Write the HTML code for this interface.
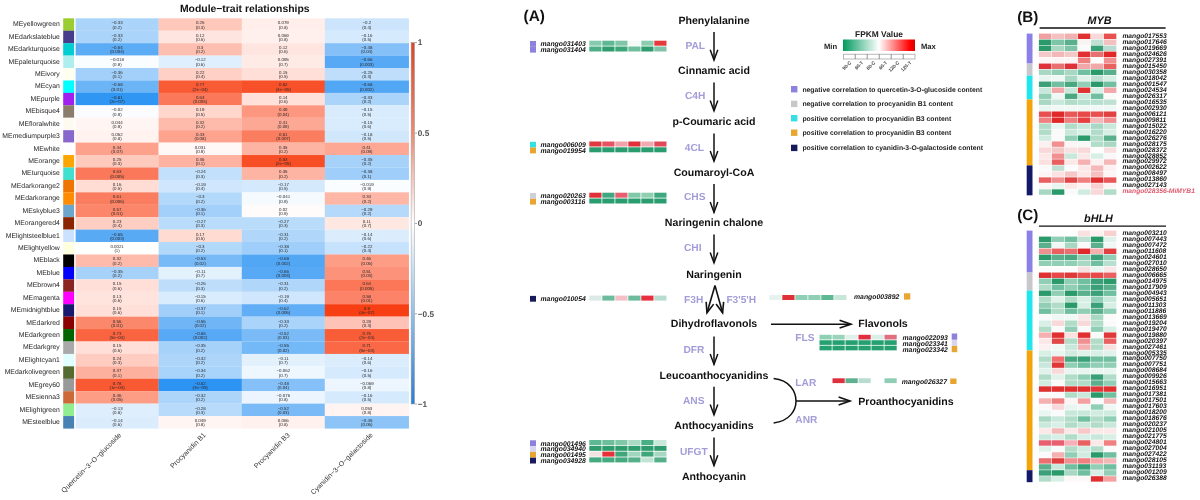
<!DOCTYPE html>
<html><head><meta charset="utf-8"><title>Figure</title>
<style>html,body{margin:0;padding:0;background:#fff;}svg{display:block;font-family:"Liberation Sans", sans-serif;text-rendering:geometricPrecision;filter:blur(0.45px);}</style>
</head><body>
<svg width="1200" height="500" viewBox="0 0 1200 500">
<rect width="1200" height="500" fill="#ffffff"/>
<text x="244.75" y="11.50" font-size="10.4" fill="#111" font-weight="bold" font-style="normal" text-anchor="middle" >Module−trait relationships</text>
<rect x="63.20" y="18.30" width="10.90" height="12.53" fill="#9acd32" />
<text x="59.80" y="26.21" font-size="6.85" fill="#1e1e1e" font-weight="normal" font-style="normal" text-anchor="end" >MEyellowgreen</text>
<rect x="75.60" y="18.30" width="83.15" height="12.53" fill="#abd4fa" />
<text x="117.10" y="24.20" font-size="4.4" fill="#2a2a2a" font-weight="normal" font-style="normal" text-anchor="middle" >−0.33</text>
<text x="117.10" y="28.50" font-size="4.4" fill="#2a2a2a" font-weight="normal" font-style="normal" text-anchor="middle" >(0.2)</text>
<rect x="158.60" y="18.30" width="83.35" height="12.53" fill="#fec8bb" />
<text x="200.20" y="24.20" font-size="4.4" fill="#2a2a2a" font-weight="normal" font-style="normal" text-anchor="middle" >0.26</text>
<text x="200.20" y="28.50" font-size="4.4" fill="#2a2a2a" font-weight="normal" font-style="normal" text-anchor="middle" >(0.3)</text>
<rect x="241.80" y="18.30" width="83.15" height="12.53" fill="#ffeeea" />
<text x="283.30" y="24.20" font-size="4.4" fill="#2a2a2a" font-weight="normal" font-style="normal" text-anchor="middle" >0.079</text>
<text x="283.30" y="28.50" font-size="4.4" fill="#2a2a2a" font-weight="normal" font-style="normal" text-anchor="middle" >(0.8)</text>
<rect x="324.80" y="18.30" width="84.15" height="12.53" fill="#cce5fc" />
<text x="366.80" y="24.20" font-size="4.4" fill="#2a2a2a" font-weight="normal" font-style="normal" text-anchor="middle" >−0.2</text>
<text x="366.80" y="28.50" font-size="4.4" fill="#2a2a2a" font-weight="normal" font-style="normal" text-anchor="middle" >(0.4)</text>
<rect x="63.20" y="30.73" width="10.90" height="12.53" fill="#483d8b" />
<text x="59.80" y="38.65" font-size="6.85" fill="#1e1e1e" font-weight="normal" font-style="normal" text-anchor="end" >MEdarkslateblue</text>
<rect x="75.60" y="30.73" width="83.15" height="12.53" fill="#abd4fa" />
<text x="117.10" y="36.63" font-size="4.4" fill="#2a2a2a" font-weight="normal" font-style="normal" text-anchor="middle" >−0.33</text>
<text x="117.10" y="40.93" font-size="4.4" fill="#2a2a2a" font-weight="normal" font-style="normal" text-anchor="middle" >(0.2)</text>
<rect x="158.60" y="30.73" width="83.35" height="12.53" fill="#ffe5e0" />
<text x="200.20" y="36.63" font-size="4.4" fill="#2a2a2a" font-weight="normal" font-style="normal" text-anchor="middle" >0.12</text>
<text x="200.20" y="40.93" font-size="4.4" fill="#2a2a2a" font-weight="normal" font-style="normal" text-anchor="middle" >(0.6)</text>
<rect x="241.80" y="30.73" width="83.15" height="12.53" fill="#fff0ed" />
<text x="283.30" y="36.63" font-size="4.4" fill="#2a2a2a" font-weight="normal" font-style="normal" text-anchor="middle" >0.069</text>
<text x="283.30" y="40.93" font-size="4.4" fill="#2a2a2a" font-weight="normal" font-style="normal" text-anchor="middle" >(0.8)</text>
<rect x="324.80" y="30.73" width="84.15" height="12.53" fill="#d6eafd" />
<text x="366.80" y="36.63" font-size="4.4" fill="#2a2a2a" font-weight="normal" font-style="normal" text-anchor="middle" >−0.16</text>
<text x="366.80" y="40.93" font-size="4.4" fill="#2a2a2a" font-weight="normal" font-style="normal" text-anchor="middle" >(0.5)</text>
<rect x="63.20" y="43.16" width="10.90" height="12.53" fill="#00ced1" />
<text x="59.80" y="51.08" font-size="6.85" fill="#1e1e1e" font-weight="normal" font-style="normal" text-anchor="end" >MEdarkturquoise</text>
<rect x="75.60" y="43.16" width="83.15" height="12.53" fill="#5cacf5" />
<text x="117.10" y="49.06" font-size="4.4" fill="#2a2a2a" font-weight="normal" font-style="normal" text-anchor="middle" >−0.64</text>
<text x="117.10" y="53.36" font-size="4.4" fill="#2a2a2a" font-weight="normal" font-style="normal" text-anchor="middle" >(0.004)</text>
<rect x="158.60" y="43.16" width="83.35" height="12.53" fill="#febfb0" />
<text x="200.20" y="49.06" font-size="4.4" fill="#2a2a2a" font-weight="normal" font-style="normal" text-anchor="middle" >0.3</text>
<text x="200.20" y="53.36" font-size="4.4" fill="#2a2a2a" font-weight="normal" font-style="normal" text-anchor="middle" >(0.2)</text>
<rect x="241.80" y="43.16" width="83.15" height="12.53" fill="#ffe5e0" />
<text x="283.30" y="49.06" font-size="4.4" fill="#2a2a2a" font-weight="normal" font-style="normal" text-anchor="middle" >0.12</text>
<text x="283.30" y="53.36" font-size="4.4" fill="#2a2a2a" font-weight="normal" font-style="normal" text-anchor="middle" >(0.6)</text>
<rect x="324.80" y="43.16" width="84.15" height="12.53" fill="#85c1f8" />
<text x="366.80" y="49.06" font-size="4.4" fill="#2a2a2a" font-weight="normal" font-style="normal" text-anchor="middle" >−0.48</text>
<text x="366.80" y="53.36" font-size="4.4" fill="#2a2a2a" font-weight="normal" font-style="normal" text-anchor="middle" >(0.04)</text>
<rect x="63.20" y="55.59" width="10.90" height="12.53" fill="#afeeee" />
<text x="59.80" y="63.51" font-size="6.85" fill="#1e1e1e" font-weight="normal" font-style="normal" text-anchor="end" >MEpaleturquoise</text>
<rect x="75.60" y="55.59" width="83.15" height="12.53" fill="#fafdff" />
<text x="117.10" y="61.49" font-size="4.4" fill="#2a2a2a" font-weight="normal" font-style="normal" text-anchor="middle" >−0.018</text>
<text x="117.10" y="65.79" font-size="4.4" fill="#2a2a2a" font-weight="normal" font-style="normal" text-anchor="middle" >(0.9)</text>
<rect x="158.60" y="55.59" width="83.35" height="12.53" fill="#e0effd" />
<text x="200.20" y="61.49" font-size="4.4" fill="#2a2a2a" font-weight="normal" font-style="normal" text-anchor="middle" >−0.12</text>
<text x="200.20" y="65.79" font-size="4.4" fill="#2a2a2a" font-weight="normal" font-style="normal" text-anchor="middle" >(0.6)</text>
<rect x="241.80" y="55.59" width="83.15" height="12.53" fill="#ffebe6" />
<text x="283.30" y="61.49" font-size="4.4" fill="#2a2a2a" font-weight="normal" font-style="normal" text-anchor="middle" >0.095</text>
<text x="283.30" y="65.79" font-size="4.4" fill="#2a2a2a" font-weight="normal" font-style="normal" text-anchor="middle" >(0.7)</text>
<rect x="324.80" y="55.59" width="84.15" height="12.53" fill="#57a9f5" />
<text x="366.80" y="61.49" font-size="4.4" fill="#2a2a2a" font-weight="normal" font-style="normal" text-anchor="middle" >−0.66</text>
<text x="366.80" y="65.79" font-size="4.4" fill="#2a2a2a" font-weight="normal" font-style="normal" text-anchor="middle" >(0.003)</text>
<rect x="63.20" y="68.02" width="10.90" height="12.53" fill="#fffff0" />
<text x="59.80" y="75.94" font-size="6.85" fill="#1e1e1e" font-weight="normal" font-style="normal" text-anchor="end" >MEivory</text>
<rect x="75.60" y="68.02" width="83.15" height="12.53" fill="#a3d0fa" />
<text x="117.10" y="73.92" font-size="4.4" fill="#2a2a2a" font-weight="normal" font-style="normal" text-anchor="middle" >−0.36</text>
<text x="117.10" y="78.22" font-size="4.4" fill="#2a2a2a" font-weight="normal" font-style="normal" text-anchor="middle" >(0.1)</text>
<rect x="158.60" y="68.02" width="83.35" height="12.53" fill="#ffd0c5" />
<text x="200.20" y="73.92" font-size="4.4" fill="#2a2a2a" font-weight="normal" font-style="normal" text-anchor="middle" >0.22</text>
<text x="200.20" y="78.22" font-size="4.4" fill="#2a2a2a" font-weight="normal" font-style="normal" text-anchor="middle" >(0.4)</text>
<rect x="241.80" y="68.02" width="83.15" height="12.53" fill="#ffdfd8" />
<text x="283.30" y="73.92" font-size="4.4" fill="#2a2a2a" font-weight="normal" font-style="normal" text-anchor="middle" >0.15</text>
<text x="283.30" y="78.22" font-size="4.4" fill="#2a2a2a" font-weight="normal" font-style="normal" text-anchor="middle" >(0.5)</text>
<rect x="324.80" y="68.02" width="84.15" height="12.53" fill="#bfdefb" />
<text x="366.80" y="73.92" font-size="4.4" fill="#2a2a2a" font-weight="normal" font-style="normal" text-anchor="middle" >−0.25</text>
<text x="366.80" y="78.22" font-size="4.4" fill="#2a2a2a" font-weight="normal" font-style="normal" text-anchor="middle" >(0.3)</text>
<rect x="63.20" y="80.45" width="10.90" height="12.53" fill="#00ffff" />
<text x="59.80" y="88.37" font-size="6.85" fill="#1e1e1e" font-weight="normal" font-style="normal" text-anchor="end" >MEcyan</text>
<rect x="75.60" y="80.45" width="83.15" height="12.53" fill="#6bb4f6" />
<text x="117.10" y="86.35" font-size="4.4" fill="#2a2a2a" font-weight="normal" font-style="normal" text-anchor="middle" >−0.58</text>
<text x="117.10" y="90.65" font-size="4.4" fill="#2a2a2a" font-weight="normal" font-style="normal" text-anchor="middle" >(0.01)</text>
<rect x="158.60" y="80.45" width="83.35" height="12.53" fill="#f95b35" />
<text x="200.20" y="86.35" font-size="4.4" fill="#2a2a2a" font-weight="normal" font-style="normal" text-anchor="middle" >0.77</text>
<text x="200.20" y="90.65" font-size="4.4" fill="#2a2a2a" font-weight="normal" font-style="normal" text-anchor="middle" >(2e−04)</text>
<rect x="241.80" y="80.45" width="83.15" height="12.53" fill="#f85028" />
<text x="283.30" y="86.35" font-size="4.4" fill="#2a2a2a" font-weight="normal" font-style="normal" text-anchor="middle" >0.82</text>
<text x="283.30" y="90.65" font-size="4.4" fill="#2a2a2a" font-weight="normal" font-style="normal" text-anchor="middle" >(4e−05)</text>
<rect x="324.80" y="80.45" width="84.15" height="12.53" fill="#52a7f5" />
<text x="366.80" y="86.35" font-size="4.4" fill="#2a2a2a" font-weight="normal" font-style="normal" text-anchor="middle" >−0.68</text>
<text x="366.80" y="90.65" font-size="4.4" fill="#2a2a2a" font-weight="normal" font-style="normal" text-anchor="middle" >(0.002)</text>
<rect x="63.20" y="92.88" width="10.90" height="12.53" fill="#a020f0" />
<text x="59.80" y="100.80" font-size="6.85" fill="#1e1e1e" font-weight="normal" font-style="normal" text-anchor="end" >MEpurple</text>
<rect x="75.60" y="92.88" width="83.15" height="12.53" fill="#3096f3" />
<text x="117.10" y="98.78" font-size="4.4" fill="#2a2a2a" font-weight="normal" font-style="normal" text-anchor="middle" >−0.81</text>
<text x="117.10" y="103.08" font-size="4.4" fill="#2a2a2a" font-weight="normal" font-style="normal" text-anchor="middle" >(2e−07)</text>
<rect x="158.60" y="92.88" width="83.35" height="12.53" fill="#fb795a" />
<text x="200.20" y="98.78" font-size="4.4" fill="#2a2a2a" font-weight="normal" font-style="normal" text-anchor="middle" >0.63</text>
<text x="200.20" y="103.08" font-size="4.4" fill="#2a2a2a" font-weight="normal" font-style="normal" text-anchor="middle" >(0.005)</text>
<rect x="241.80" y="92.88" width="83.15" height="12.53" fill="#ffe1da" />
<text x="283.30" y="98.78" font-size="4.4" fill="#2a2a2a" font-weight="normal" font-style="normal" text-anchor="middle" >0.14</text>
<text x="283.30" y="103.08" font-size="4.4" fill="#2a2a2a" font-weight="normal" font-style="normal" text-anchor="middle" >(0.6)</text>
<rect x="324.80" y="92.88" width="84.15" height="12.53" fill="#abd4fa" />
<text x="366.80" y="98.78" font-size="4.4" fill="#2a2a2a" font-weight="normal" font-style="normal" text-anchor="middle" >−0.33</text>
<text x="366.80" y="103.08" font-size="4.4" fill="#2a2a2a" font-weight="normal" font-style="normal" text-anchor="middle" >(0.2)</text>
<rect x="63.20" y="105.31" width="10.90" height="12.53" fill="#8b7d6b" />
<text x="59.80" y="113.22" font-size="6.85" fill="#1e1e1e" font-weight="normal" font-style="normal" text-anchor="end" >MEbisque4</text>
<rect x="75.60" y="105.31" width="83.15" height="12.53" fill="#fafcff" />
<text x="117.10" y="111.21" font-size="4.4" fill="#2a2a2a" font-weight="normal" font-style="normal" text-anchor="middle" >−0.02</text>
<text x="117.10" y="115.51" font-size="4.4" fill="#2a2a2a" font-weight="normal" font-style="normal" text-anchor="middle" >(0.9)</text>
<rect x="158.60" y="105.31" width="83.35" height="12.53" fill="#ffd7cd" />
<text x="200.20" y="111.21" font-size="4.4" fill="#2a2a2a" font-weight="normal" font-style="normal" text-anchor="middle" >0.19</text>
<text x="200.20" y="115.51" font-size="4.4" fill="#2a2a2a" font-weight="normal" font-style="normal" text-anchor="middle" >(0.5)</text>
<rect x="241.80" y="105.31" width="83.15" height="12.53" fill="#fd977f" />
<text x="283.30" y="111.21" font-size="4.4" fill="#2a2a2a" font-weight="normal" font-style="normal" text-anchor="middle" >0.49</text>
<text x="283.30" y="115.51" font-size="4.4" fill="#2a2a2a" font-weight="normal" font-style="normal" text-anchor="middle" >(0.04)</text>
<rect x="324.80" y="105.31" width="84.15" height="12.53" fill="#d9ecfd" />
<text x="366.80" y="111.21" font-size="4.4" fill="#2a2a2a" font-weight="normal" font-style="normal" text-anchor="middle" >−0.15</text>
<text x="366.80" y="115.51" font-size="4.4" fill="#2a2a2a" font-weight="normal" font-style="normal" text-anchor="middle" >(0.5)</text>
<rect x="63.20" y="117.74" width="10.90" height="12.53" fill="#fffaf0" />
<text x="59.80" y="125.66" font-size="6.85" fill="#1e1e1e" font-weight="normal" font-style="normal" text-anchor="end" >MEfloralwhite</text>
<rect x="75.60" y="117.74" width="83.15" height="12.53" fill="#fff6f3" />
<text x="117.10" y="123.64" font-size="4.4" fill="#2a2a2a" font-weight="normal" font-style="normal" text-anchor="middle" >0.044</text>
<text x="117.10" y="127.94" font-size="4.4" fill="#2a2a2a" font-weight="normal" font-style="normal" text-anchor="middle" >(0.9)</text>
<rect x="158.60" y="117.74" width="83.35" height="12.53" fill="#febbab" />
<text x="200.20" y="123.64" font-size="4.4" fill="#2a2a2a" font-weight="normal" font-style="normal" text-anchor="middle" >0.32</text>
<text x="200.20" y="127.94" font-size="4.4" fill="#2a2a2a" font-weight="normal" font-style="normal" text-anchor="middle" >(0.2)</text>
<rect x="241.80" y="117.74" width="83.15" height="12.53" fill="#fda894" />
<text x="283.30" y="123.64" font-size="4.4" fill="#2a2a2a" font-weight="normal" font-style="normal" text-anchor="middle" >0.41</text>
<text x="283.30" y="127.94" font-size="4.4" fill="#2a2a2a" font-weight="normal" font-style="normal" text-anchor="middle" >(0.09)</text>
<rect x="324.80" y="117.74" width="84.15" height="12.53" fill="#d9ecfd" />
<text x="366.80" y="123.64" font-size="4.4" fill="#2a2a2a" font-weight="normal" font-style="normal" text-anchor="middle" >−0.15</text>
<text x="366.80" y="127.94" font-size="4.4" fill="#2a2a2a" font-weight="normal" font-style="normal" text-anchor="middle" >(0.6)</text>
<rect x="63.20" y="130.17" width="10.90" height="12.53" fill="#8968cd" />
<text x="59.80" y="138.09" font-size="6.85" fill="#1e1e1e" font-weight="normal" font-style="normal" text-anchor="end" >MEmediumpurple3</text>
<rect x="75.60" y="130.17" width="83.15" height="12.53" fill="#fff2ef" />
<text x="117.10" y="136.07" font-size="4.4" fill="#2a2a2a" font-weight="normal" font-style="normal" text-anchor="middle" >0.062</text>
<text x="117.10" y="140.37" font-size="4.4" fill="#2a2a2a" font-weight="normal" font-style="normal" text-anchor="middle" >(0.8)</text>
<rect x="158.60" y="130.17" width="83.35" height="12.53" fill="#fda38e" />
<text x="200.20" y="136.07" font-size="4.4" fill="#2a2a2a" font-weight="normal" font-style="normal" text-anchor="middle" >0.43</text>
<text x="200.20" y="140.37" font-size="4.4" fill="#2a2a2a" font-weight="normal" font-style="normal" text-anchor="middle" >(0.08)</text>
<rect x="241.80" y="130.17" width="83.15" height="12.53" fill="#fb7d5f" />
<text x="283.30" y="136.07" font-size="4.4" fill="#2a2a2a" font-weight="normal" font-style="normal" text-anchor="middle" >0.61</text>
<text x="283.30" y="140.37" font-size="4.4" fill="#2a2a2a" font-weight="normal" font-style="normal" text-anchor="middle" >(0.007)</text>
<rect x="324.80" y="130.17" width="84.15" height="12.53" fill="#d1e8fc" />
<text x="366.80" y="136.07" font-size="4.4" fill="#2a2a2a" font-weight="normal" font-style="normal" text-anchor="middle" >−0.18</text>
<text x="366.80" y="140.37" font-size="4.4" fill="#2a2a2a" font-weight="normal" font-style="normal" text-anchor="middle" >(0.5)</text>
<rect x="63.20" y="142.60" width="10.90" height="12.53" fill="#ffffff" />
<text x="59.80" y="150.51" font-size="6.85" fill="#1e1e1e" font-weight="normal" font-style="normal" text-anchor="end" >MEwhite</text>
<rect x="75.60" y="142.60" width="83.15" height="12.53" fill="#fda18c" />
<text x="117.10" y="148.50" font-size="4.4" fill="#2a2a2a" font-weight="normal" font-style="normal" text-anchor="middle" >0.44</text>
<text x="117.10" y="152.80" font-size="4.4" fill="#2a2a2a" font-weight="normal" font-style="normal" text-anchor="middle" >(0.07)</text>
<rect x="158.60" y="142.60" width="83.35" height="12.53" fill="#fff8f7" />
<text x="200.20" y="148.50" font-size="4.4" fill="#2a2a2a" font-weight="normal" font-style="normal" text-anchor="middle" >0.031</text>
<text x="200.20" y="152.80" font-size="4.4" fill="#2a2a2a" font-weight="normal" font-style="normal" text-anchor="middle" >(0.9)</text>
<rect x="241.80" y="142.60" width="83.15" height="12.53" fill="#feb4a3" />
<text x="283.30" y="148.50" font-size="4.4" fill="#2a2a2a" font-weight="normal" font-style="normal" text-anchor="middle" >0.35</text>
<text x="283.30" y="152.80" font-size="4.4" fill="#2a2a2a" font-weight="normal" font-style="normal" text-anchor="middle" >(0.2)</text>
<rect x="324.80" y="142.60" width="84.15" height="12.53" fill="#fda894" />
<text x="366.80" y="148.50" font-size="4.4" fill="#2a2a2a" font-weight="normal" font-style="normal" text-anchor="middle" >0.41</text>
<text x="366.80" y="152.80" font-size="4.4" fill="#2a2a2a" font-weight="normal" font-style="normal" text-anchor="middle" >(0.09)</text>
<rect x="63.20" y="155.03" width="10.90" height="12.53" fill="#ffa500" />
<text x="59.80" y="162.94" font-size="6.85" fill="#1e1e1e" font-weight="normal" font-style="normal" text-anchor="end" >MEorange</text>
<rect x="75.60" y="155.03" width="83.15" height="12.53" fill="#fecabe" />
<text x="117.10" y="160.93" font-size="4.4" fill="#2a2a2a" font-weight="normal" font-style="normal" text-anchor="middle" >0.25</text>
<text x="117.10" y="165.23" font-size="4.4" fill="#2a2a2a" font-weight="normal" font-style="normal" text-anchor="middle" >(0.3)</text>
<rect x="158.60" y="155.03" width="83.35" height="12.53" fill="#feb2a1" />
<text x="200.20" y="160.93" font-size="4.4" fill="#2a2a2a" font-weight="normal" font-style="normal" text-anchor="middle" >0.36</text>
<text x="200.20" y="165.23" font-size="4.4" fill="#2a2a2a" font-weight="normal" font-style="normal" text-anchor="middle" >(0.1)</text>
<rect x="241.80" y="155.03" width="83.15" height="12.53" fill="#f84e26" />
<text x="283.30" y="160.93" font-size="4.4" fill="#2a2a2a" font-weight="normal" font-style="normal" text-anchor="middle" >0.83</text>
<text x="283.30" y="165.23" font-size="4.4" fill="#2a2a2a" font-weight="normal" font-style="normal" text-anchor="middle" >(2e−05)</text>
<rect x="324.80" y="155.03" width="84.15" height="12.53" fill="#a6d2fa" />
<text x="366.80" y="160.93" font-size="4.4" fill="#2a2a2a" font-weight="normal" font-style="normal" text-anchor="middle" >−0.35</text>
<text x="366.80" y="165.23" font-size="4.4" fill="#2a2a2a" font-weight="normal" font-style="normal" text-anchor="middle" >(0.2)</text>
<rect x="63.20" y="167.46" width="10.90" height="12.53" fill="#40e0d0" />
<text x="59.80" y="175.38" font-size="6.85" fill="#1e1e1e" font-weight="normal" font-style="normal" text-anchor="end" >MEturquoise</text>
<rect x="75.60" y="167.46" width="83.15" height="12.53" fill="#fb795a" />
<text x="117.10" y="173.36" font-size="4.4" fill="#2a2a2a" font-weight="normal" font-style="normal" text-anchor="middle" >0.63</text>
<text x="117.10" y="177.66" font-size="4.4" fill="#2a2a2a" font-weight="normal" font-style="normal" text-anchor="middle" >(0.005)</text>
<rect x="158.60" y="167.46" width="83.35" height="12.53" fill="#c2e0fb" />
<text x="200.20" y="173.36" font-size="4.4" fill="#2a2a2a" font-weight="normal" font-style="normal" text-anchor="middle" >−0.24</text>
<text x="200.20" y="177.66" font-size="4.4" fill="#2a2a2a" font-weight="normal" font-style="normal" text-anchor="middle" >(0.3)</text>
<rect x="241.80" y="167.46" width="83.15" height="12.53" fill="#feb4a3" />
<text x="283.30" y="173.36" font-size="4.4" fill="#2a2a2a" font-weight="normal" font-style="normal" text-anchor="middle" >0.35</text>
<text x="283.30" y="177.66" font-size="4.4" fill="#2a2a2a" font-weight="normal" font-style="normal" text-anchor="middle" >(0.2)</text>
<rect x="324.80" y="167.46" width="84.15" height="12.53" fill="#9ecef9" />
<text x="366.80" y="173.36" font-size="4.4" fill="#2a2a2a" font-weight="normal" font-style="normal" text-anchor="middle" >−0.38</text>
<text x="366.80" y="177.66" font-size="4.4" fill="#2a2a2a" font-weight="normal" font-style="normal" text-anchor="middle" >(0.1)</text>
<rect x="63.20" y="179.89" width="10.90" height="12.53" fill="#ee7600" />
<text x="59.80" y="187.81" font-size="6.85" fill="#1e1e1e" font-weight="normal" font-style="normal" text-anchor="end" >MEdarkorange2</text>
<rect x="75.60" y="179.89" width="83.15" height="12.53" fill="#ffddd5" />
<text x="117.10" y="185.79" font-size="4.4" fill="#2a2a2a" font-weight="normal" font-style="normal" text-anchor="middle" >0.16</text>
<text x="117.10" y="190.09" font-size="4.4" fill="#2a2a2a" font-weight="normal" font-style="normal" text-anchor="middle" >(0.5)</text>
<rect x="158.60" y="179.89" width="83.35" height="12.53" fill="#cfe6fc" />
<text x="200.20" y="185.79" font-size="4.4" fill="#2a2a2a" font-weight="normal" font-style="normal" text-anchor="middle" >−0.19</text>
<text x="200.20" y="190.09" font-size="4.4" fill="#2a2a2a" font-weight="normal" font-style="normal" text-anchor="middle" >(0.4)</text>
<rect x="241.80" y="179.89" width="83.15" height="12.53" fill="#d4e9fc" />
<text x="283.30" y="185.79" font-size="4.4" fill="#2a2a2a" font-weight="normal" font-style="normal" text-anchor="middle" >−0.17</text>
<text x="283.30" y="190.09" font-size="4.4" fill="#2a2a2a" font-weight="normal" font-style="normal" text-anchor="middle" >(0.5)</text>
<rect x="324.80" y="179.89" width="84.15" height="12.53" fill="#fafdff" />
<text x="366.80" y="185.79" font-size="4.4" fill="#2a2a2a" font-weight="normal" font-style="normal" text-anchor="middle" >−0.019</text>
<text x="366.80" y="190.09" font-size="4.4" fill="#2a2a2a" font-weight="normal" font-style="normal" text-anchor="middle" >(0.9)</text>
<rect x="63.20" y="192.32" width="10.90" height="12.53" fill="#ff8c00" />
<text x="59.80" y="200.23" font-size="6.85" fill="#1e1e1e" font-weight="normal" font-style="normal" text-anchor="end" >MEdarkorange</text>
<rect x="75.60" y="192.32" width="83.15" height="12.53" fill="#fb7d5f" />
<text x="117.10" y="198.22" font-size="4.4" fill="#2a2a2a" font-weight="normal" font-style="normal" text-anchor="middle" >0.61</text>
<text x="117.10" y="202.52" font-size="4.4" fill="#2a2a2a" font-weight="normal" font-style="normal" text-anchor="middle" >(0.006)</text>
<rect x="158.60" y="192.32" width="83.35" height="12.53" fill="#b2d8fa" />
<text x="200.20" y="198.22" font-size="4.4" fill="#2a2a2a" font-weight="normal" font-style="normal" text-anchor="middle" >−0.3</text>
<text x="200.20" y="202.52" font-size="4.4" fill="#2a2a2a" font-weight="normal" font-style="normal" text-anchor="middle" >(0.2)</text>
<rect x="241.80" y="192.32" width="83.15" height="12.53" fill="#f5fafe" />
<text x="283.30" y="198.22" font-size="4.4" fill="#2a2a2a" font-weight="normal" font-style="normal" text-anchor="middle" >−0.041</text>
<text x="283.30" y="202.52" font-size="4.4" fill="#2a2a2a" font-weight="normal" font-style="normal" text-anchor="middle" >(0.9)</text>
<rect x="324.80" y="192.32" width="84.15" height="12.53" fill="#feb7a6" />
<text x="366.80" y="198.22" font-size="4.4" fill="#2a2a2a" font-weight="normal" font-style="normal" text-anchor="middle" >0.34</text>
<text x="366.80" y="202.52" font-size="4.4" fill="#2a2a2a" font-weight="normal" font-style="normal" text-anchor="middle" >(0.2)</text>
<rect x="63.20" y="204.75" width="10.90" height="12.53" fill="#6ca6cd" />
<text x="59.80" y="212.66" font-size="6.85" fill="#1e1e1e" font-weight="normal" font-style="normal" text-anchor="end" >MEskyblue3</text>
<rect x="75.60" y="204.75" width="83.15" height="12.53" fill="#fc866a" />
<text x="117.10" y="210.65" font-size="4.4" fill="#2a2a2a" font-weight="normal" font-style="normal" text-anchor="middle" >0.57</text>
<text x="117.10" y="214.95" font-size="4.4" fill="#2a2a2a" font-weight="normal" font-style="normal" text-anchor="middle" >(0.01)</text>
<rect x="158.60" y="204.75" width="83.35" height="12.53" fill="#a3d0fa" />
<text x="200.20" y="210.65" font-size="4.4" fill="#2a2a2a" font-weight="normal" font-style="normal" text-anchor="middle" >−0.36</text>
<text x="200.20" y="214.95" font-size="4.4" fill="#2a2a2a" font-weight="normal" font-style="normal" text-anchor="middle" >(0.1)</text>
<rect x="241.80" y="204.75" width="83.15" height="12.53" fill="#fffbfa" />
<text x="283.30" y="210.65" font-size="4.4" fill="#2a2a2a" font-weight="normal" font-style="normal" text-anchor="middle" >0.02</text>
<text x="283.30" y="214.95" font-size="4.4" fill="#2a2a2a" font-weight="normal" font-style="normal" text-anchor="middle" >(0.9)</text>
<rect x="324.80" y="204.75" width="84.15" height="12.53" fill="#b5d9fb" />
<text x="366.80" y="210.65" font-size="4.4" fill="#2a2a2a" font-weight="normal" font-style="normal" text-anchor="middle" >−0.29</text>
<text x="366.80" y="214.95" font-size="4.4" fill="#2a2a2a" font-weight="normal" font-style="normal" text-anchor="middle" >(0.2)</text>
<rect x="63.20" y="217.18" width="10.90" height="12.53" fill="#8b2500" />
<text x="59.80" y="225.09" font-size="6.85" fill="#1e1e1e" font-weight="normal" font-style="normal" text-anchor="end" >MEorangered4</text>
<rect x="75.60" y="217.18" width="83.15" height="12.53" fill="#fecec3" />
<text x="117.10" y="223.08" font-size="4.4" fill="#2a2a2a" font-weight="normal" font-style="normal" text-anchor="middle" >0.23</text>
<text x="117.10" y="227.38" font-size="4.4" fill="#2a2a2a" font-weight="normal" font-style="normal" text-anchor="middle" >(0.4)</text>
<rect x="158.60" y="217.18" width="83.35" height="12.53" fill="#badcfb" />
<text x="200.20" y="223.08" font-size="4.4" fill="#2a2a2a" font-weight="normal" font-style="normal" text-anchor="middle" >−0.27</text>
<text x="200.20" y="227.38" font-size="4.4" fill="#2a2a2a" font-weight="normal" font-style="normal" text-anchor="middle" >(0.3)</text>
<rect x="241.80" y="217.18" width="83.15" height="12.53" fill="#badcfb" />
<text x="283.30" y="223.08" font-size="4.4" fill="#2a2a2a" font-weight="normal" font-style="normal" text-anchor="middle" >−0.27</text>
<text x="283.30" y="227.38" font-size="4.4" fill="#2a2a2a" font-weight="normal" font-style="normal" text-anchor="middle" >(0.3)</text>
<rect x="324.80" y="217.18" width="84.15" height="12.53" fill="#ffe8e2" />
<text x="366.80" y="223.08" font-size="4.4" fill="#2a2a2a" font-weight="normal" font-style="normal" text-anchor="middle" >0.11</text>
<text x="366.80" y="227.38" font-size="4.4" fill="#2a2a2a" font-weight="normal" font-style="normal" text-anchor="middle" >(0.7)</text>
<rect x="63.20" y="229.61" width="10.90" height="12.53" fill="#cae1ff" />
<text x="59.80" y="237.53" font-size="6.85" fill="#1e1e1e" font-weight="normal" font-style="normal" text-anchor="end" >MElightsteelblue1</text>
<rect x="75.60" y="229.61" width="83.15" height="12.53" fill="#59aaf5" />
<text x="117.10" y="235.51" font-size="4.4" fill="#2a2a2a" font-weight="normal" font-style="normal" text-anchor="middle" >−0.65</text>
<text x="117.10" y="239.81" font-size="4.4" fill="#2a2a2a" font-weight="normal" font-style="normal" text-anchor="middle" >(0.003)</text>
<rect x="158.60" y="229.61" width="83.35" height="12.53" fill="#ffdbd2" />
<text x="200.20" y="235.51" font-size="4.4" fill="#2a2a2a" font-weight="normal" font-style="normal" text-anchor="middle" >0.17</text>
<text x="200.20" y="239.81" font-size="4.4" fill="#2a2a2a" font-weight="normal" font-style="normal" text-anchor="middle" >(0.5)</text>
<rect x="241.80" y="229.61" width="83.15" height="12.53" fill="#b0d7fa" />
<text x="283.30" y="235.51" font-size="4.4" fill="#2a2a2a" font-weight="normal" font-style="normal" text-anchor="middle" >−0.31</text>
<text x="283.30" y="239.81" font-size="4.4" fill="#2a2a2a" font-weight="normal" font-style="normal" text-anchor="middle" >(0.2)</text>
<rect x="324.80" y="229.61" width="84.15" height="12.53" fill="#dbedfd" />
<text x="366.80" y="235.51" font-size="4.4" fill="#2a2a2a" font-weight="normal" font-style="normal" text-anchor="middle" >−0.14</text>
<text x="366.80" y="239.81" font-size="4.4" fill="#2a2a2a" font-weight="normal" font-style="normal" text-anchor="middle" >(0.6)</text>
<rect x="63.20" y="242.04" width="10.90" height="12.53" fill="#ffffe0" />
<text x="59.80" y="249.96" font-size="6.85" fill="#1e1e1e" font-weight="normal" font-style="normal" text-anchor="end" >MElightyellow</text>
<rect x="75.60" y="242.04" width="83.15" height="12.53" fill="#fffffe" />
<text x="117.10" y="247.94" font-size="4.4" fill="#2a2a2a" font-weight="normal" font-style="normal" text-anchor="middle" >0.0021</text>
<text x="117.10" y="252.24" font-size="4.4" fill="#2a2a2a" font-weight="normal" font-style="normal" text-anchor="middle" >(1)</text>
<rect x="158.60" y="242.04" width="83.35" height="12.53" fill="#b2d8fa" />
<text x="200.20" y="247.94" font-size="4.4" fill="#2a2a2a" font-weight="normal" font-style="normal" text-anchor="middle" >−0.3</text>
<text x="200.20" y="252.24" font-size="4.4" fill="#2a2a2a" font-weight="normal" font-style="normal" text-anchor="middle" >(0.2)</text>
<rect x="241.80" y="242.04" width="83.15" height="12.53" fill="#9ecef9" />
<text x="283.30" y="247.94" font-size="4.4" fill="#2a2a2a" font-weight="normal" font-style="normal" text-anchor="middle" >−0.38</text>
<text x="283.30" y="252.24" font-size="4.4" fill="#2a2a2a" font-weight="normal" font-style="normal" text-anchor="middle" >(0.1)</text>
<rect x="324.80" y="242.04" width="84.15" height="12.53" fill="#c7e2fc" />
<text x="366.80" y="247.94" font-size="4.4" fill="#2a2a2a" font-weight="normal" font-style="normal" text-anchor="middle" >−0.22</text>
<text x="366.80" y="252.24" font-size="4.4" fill="#2a2a2a" font-weight="normal" font-style="normal" text-anchor="middle" >(0.4)</text>
<rect x="63.20" y="254.47" width="10.90" height="12.53" fill="#000000" />
<text x="59.80" y="262.38" font-size="6.85" fill="#1e1e1e" font-weight="normal" font-style="normal" text-anchor="end" >MEblack</text>
<rect x="75.60" y="254.47" width="83.15" height="12.53" fill="#febbab" />
<text x="117.10" y="260.37" font-size="4.4" fill="#2a2a2a" font-weight="normal" font-style="normal" text-anchor="middle" >0.32</text>
<text x="117.10" y="264.67" font-size="4.4" fill="#2a2a2a" font-weight="normal" font-style="normal" text-anchor="middle" >(0.2)</text>
<rect x="158.60" y="254.47" width="83.35" height="12.53" fill="#78baf7" />
<text x="200.20" y="260.37" font-size="4.4" fill="#2a2a2a" font-weight="normal" font-style="normal" text-anchor="middle" >−0.53</text>
<text x="200.20" y="264.67" font-size="4.4" fill="#2a2a2a" font-weight="normal" font-style="normal" text-anchor="middle" >(0.02)</text>
<rect x="241.80" y="254.47" width="83.15" height="12.53" fill="#52a7f5" />
<text x="283.30" y="260.37" font-size="4.4" fill="#2a2a2a" font-weight="normal" font-style="normal" text-anchor="middle" >−0.68</text>
<text x="283.30" y="264.67" font-size="4.4" fill="#2a2a2a" font-weight="normal" font-style="normal" text-anchor="middle" >(0.002)</text>
<rect x="324.80" y="254.47" width="84.15" height="12.53" fill="#fd9d86" />
<text x="366.80" y="260.37" font-size="4.4" fill="#2a2a2a" font-weight="normal" font-style="normal" text-anchor="middle" >0.46</text>
<text x="366.80" y="264.67" font-size="4.4" fill="#2a2a2a" font-weight="normal" font-style="normal" text-anchor="middle" >(0.06)</text>
<rect x="63.20" y="266.90" width="10.90" height="12.53" fill="#0000ff" />
<text x="59.80" y="274.81" font-size="6.85" fill="#1e1e1e" font-weight="normal" font-style="normal" text-anchor="end" >MEblue</text>
<rect x="75.60" y="266.90" width="83.15" height="12.53" fill="#a6d2fa" />
<text x="117.10" y="272.80" font-size="4.4" fill="#2a2a2a" font-weight="normal" font-style="normal" text-anchor="middle" >−0.35</text>
<text x="117.10" y="277.10" font-size="4.4" fill="#2a2a2a" font-weight="normal" font-style="normal" text-anchor="middle" >(0.2)</text>
<rect x="158.60" y="266.90" width="83.35" height="12.53" fill="#e3f1fd" />
<text x="200.20" y="272.80" font-size="4.4" fill="#2a2a2a" font-weight="normal" font-style="normal" text-anchor="middle" >−0.11</text>
<text x="200.20" y="277.10" font-size="4.4" fill="#2a2a2a" font-weight="normal" font-style="normal" text-anchor="middle" >(0.7)</text>
<rect x="241.80" y="266.90" width="83.15" height="12.53" fill="#57a9f5" />
<text x="283.30" y="272.80" font-size="4.4" fill="#2a2a2a" font-weight="normal" font-style="normal" text-anchor="middle" >−0.66</text>
<text x="283.30" y="277.10" font-size="4.4" fill="#2a2a2a" font-weight="normal" font-style="normal" text-anchor="middle" >(0.003)</text>
<rect x="324.80" y="266.90" width="84.15" height="12.53" fill="#fc9279" />
<text x="366.80" y="272.80" font-size="4.4" fill="#2a2a2a" font-weight="normal" font-style="normal" text-anchor="middle" >0.51</text>
<text x="366.80" y="277.10" font-size="4.4" fill="#2a2a2a" font-weight="normal" font-style="normal" text-anchor="middle" >(0.03)</text>
<rect x="63.20" y="279.33" width="10.90" height="12.53" fill="#8b2323" />
<text x="59.80" y="287.24" font-size="6.85" fill="#1e1e1e" font-weight="normal" font-style="normal" text-anchor="end" >MEbrown4</text>
<rect x="75.60" y="279.33" width="83.15" height="12.53" fill="#ffdfd8" />
<text x="117.10" y="285.23" font-size="4.4" fill="#2a2a2a" font-weight="normal" font-style="normal" text-anchor="middle" >0.15</text>
<text x="117.10" y="289.53" font-size="4.4" fill="#2a2a2a" font-weight="normal" font-style="normal" text-anchor="middle" >(0.6)</text>
<rect x="158.60" y="279.33" width="83.35" height="12.53" fill="#bdddfb" />
<text x="200.20" y="285.23" font-size="4.4" fill="#2a2a2a" font-weight="normal" font-style="normal" text-anchor="middle" >−0.26</text>
<text x="200.20" y="289.53" font-size="4.4" fill="#2a2a2a" font-weight="normal" font-style="normal" text-anchor="middle" >(0.3)</text>
<rect x="241.80" y="279.33" width="83.15" height="12.53" fill="#b0d7fa" />
<text x="283.30" y="285.23" font-size="4.4" fill="#2a2a2a" font-weight="normal" font-style="normal" text-anchor="middle" >−0.31</text>
<text x="283.30" y="289.53" font-size="4.4" fill="#2a2a2a" font-weight="normal" font-style="normal" text-anchor="middle" >(0.2)</text>
<rect x="324.80" y="279.33" width="84.15" height="12.53" fill="#fb7757" />
<text x="366.80" y="285.23" font-size="4.4" fill="#2a2a2a" font-weight="normal" font-style="normal" text-anchor="middle" >0.64</text>
<text x="366.80" y="289.53" font-size="4.4" fill="#2a2a2a" font-weight="normal" font-style="normal" text-anchor="middle" >(0.005)</text>
<rect x="63.20" y="291.76" width="10.90" height="12.53" fill="#ff00ff" />
<text x="59.80" y="299.67" font-size="6.85" fill="#1e1e1e" font-weight="normal" font-style="normal" text-anchor="end" >MEmagenta</text>
<rect x="75.60" y="291.76" width="83.15" height="12.53" fill="#ffe3dd" />
<text x="117.10" y="297.66" font-size="4.4" fill="#2a2a2a" font-weight="normal" font-style="normal" text-anchor="middle" >0.13</text>
<text x="117.10" y="301.96" font-size="4.4" fill="#2a2a2a" font-weight="normal" font-style="normal" text-anchor="middle" >(0.6)</text>
<rect x="158.60" y="291.76" width="83.35" height="12.53" fill="#d9ecfd" />
<text x="200.20" y="297.66" font-size="4.4" fill="#2a2a2a" font-weight="normal" font-style="normal" text-anchor="middle" >−0.15</text>
<text x="200.20" y="301.96" font-size="4.4" fill="#2a2a2a" font-weight="normal" font-style="normal" text-anchor="middle" >(0.6)</text>
<rect x="241.80" y="291.76" width="83.15" height="12.53" fill="#cfe6fc" />
<text x="283.30" y="297.66" font-size="4.4" fill="#2a2a2a" font-weight="normal" font-style="normal" text-anchor="middle" >−0.19</text>
<text x="283.30" y="301.96" font-size="4.4" fill="#2a2a2a" font-weight="normal" font-style="normal" text-anchor="middle" >(0.4)</text>
<rect x="324.80" y="291.76" width="84.15" height="12.53" fill="#fc8367" />
<text x="366.80" y="297.66" font-size="4.4" fill="#2a2a2a" font-weight="normal" font-style="normal" text-anchor="middle" >0.58</text>
<text x="366.80" y="301.96" font-size="4.4" fill="#2a2a2a" font-weight="normal" font-style="normal" text-anchor="middle" >(0.01)</text>
<rect x="63.20" y="304.19" width="10.90" height="12.53" fill="#191970" />
<text x="59.80" y="312.10" font-size="6.85" fill="#1e1e1e" font-weight="normal" font-style="normal" text-anchor="end" >MEmidnightblue</text>
<rect x="75.60" y="304.19" width="83.15" height="12.53" fill="#ffdfd8" />
<text x="117.10" y="310.09" font-size="4.4" fill="#2a2a2a" font-weight="normal" font-style="normal" text-anchor="middle" >0.15</text>
<text x="117.10" y="314.39" font-size="4.4" fill="#2a2a2a" font-weight="normal" font-style="normal" text-anchor="middle" >(0.6)</text>
<rect x="158.60" y="304.19" width="83.35" height="12.53" fill="#a1cff9" />
<text x="200.20" y="310.09" font-size="4.4" fill="#2a2a2a" font-weight="normal" font-style="normal" text-anchor="middle" >−0.37</text>
<text x="200.20" y="314.39" font-size="4.4" fill="#2a2a2a" font-weight="normal" font-style="normal" text-anchor="middle" >(0.1)</text>
<rect x="241.80" y="304.19" width="83.15" height="12.53" fill="#61aef6" />
<text x="283.30" y="310.09" font-size="4.4" fill="#2a2a2a" font-weight="normal" font-style="normal" text-anchor="middle" >−0.62</text>
<text x="283.30" y="314.39" font-size="4.4" fill="#2a2a2a" font-weight="normal" font-style="normal" text-anchor="middle" >(0.006)</text>
<rect x="324.80" y="304.19" width="84.15" height="12.53" fill="#f73f13" />
<text x="366.80" y="310.09" font-size="4.4" fill="#2a2a2a" font-weight="normal" font-style="normal" text-anchor="middle" >0.9</text>
<text x="366.80" y="314.39" font-size="4.4" fill="#2a2a2a" font-weight="normal" font-style="normal" text-anchor="middle" >(4e−07)</text>
<rect x="63.20" y="316.62" width="10.90" height="12.53" fill="#8b0000" />
<text x="59.80" y="324.53" font-size="6.85" fill="#1e1e1e" font-weight="normal" font-style="normal" text-anchor="end" >MEdarkred</text>
<rect x="75.60" y="316.62" width="83.15" height="12.53" fill="#fc886c" />
<text x="117.10" y="322.52" font-size="4.4" fill="#2a2a2a" font-weight="normal" font-style="normal" text-anchor="middle" >0.56</text>
<text x="117.10" y="326.82" font-size="4.4" fill="#2a2a2a" font-weight="normal" font-style="normal" text-anchor="middle" >(0.01)</text>
<rect x="158.60" y="316.62" width="83.35" height="12.53" fill="#70b6f7" />
<text x="200.20" y="322.52" font-size="4.4" fill="#2a2a2a" font-weight="normal" font-style="normal" text-anchor="middle" >−0.56</text>
<text x="200.20" y="326.82" font-size="4.4" fill="#2a2a2a" font-weight="normal" font-style="normal" text-anchor="middle" >(0.02)</text>
<rect x="241.80" y="316.62" width="83.15" height="12.53" fill="#abd4fa" />
<text x="283.30" y="322.52" font-size="4.4" fill="#2a2a2a" font-weight="normal" font-style="normal" text-anchor="middle" >−0.33</text>
<text x="283.30" y="326.82" font-size="4.4" fill="#2a2a2a" font-weight="normal" font-style="normal" text-anchor="middle" >(0.2)</text>
<rect x="324.80" y="316.62" width="84.15" height="12.53" fill="#fec3b6" />
<text x="366.80" y="322.52" font-size="4.4" fill="#2a2a2a" font-weight="normal" font-style="normal" text-anchor="middle" >0.28</text>
<text x="366.80" y="326.82" font-size="4.4" fill="#2a2a2a" font-weight="normal" font-style="normal" text-anchor="middle" >(0.3)</text>
<rect x="63.20" y="329.05" width="10.90" height="12.53" fill="#006400" />
<text x="59.80" y="336.96" font-size="6.85" fill="#1e1e1e" font-weight="normal" font-style="normal" text-anchor="end" >MEdarkgreen</text>
<rect x="75.60" y="329.05" width="83.15" height="12.53" fill="#fa6440" />
<text x="117.10" y="334.95" font-size="4.4" fill="#2a2a2a" font-weight="normal" font-style="normal" text-anchor="middle" >0.73</text>
<text x="117.10" y="339.25" font-size="4.4" fill="#2a2a2a" font-weight="normal" font-style="normal" text-anchor="middle" >(5e−04)</text>
<rect x="158.60" y="329.05" width="83.35" height="12.53" fill="#57a9f5" />
<text x="200.20" y="334.95" font-size="4.4" fill="#2a2a2a" font-weight="normal" font-style="normal" text-anchor="middle" >−0.66</text>
<text x="200.20" y="339.25" font-size="4.4" fill="#2a2a2a" font-weight="normal" font-style="normal" text-anchor="middle" >(0.002)</text>
<rect x="241.80" y="329.05" width="83.15" height="12.53" fill="#7abbf7" />
<text x="283.30" y="334.95" font-size="4.4" fill="#2a2a2a" font-weight="normal" font-style="normal" text-anchor="middle" >−0.52</text>
<text x="283.30" y="339.25" font-size="4.4" fill="#2a2a2a" font-weight="normal" font-style="normal" text-anchor="middle" >(0.03)</text>
<rect x="324.80" y="329.05" width="84.15" height="12.53" fill="#f95d38" />
<text x="366.80" y="334.95" font-size="4.4" fill="#2a2a2a" font-weight="normal" font-style="normal" text-anchor="middle" >0.76</text>
<text x="366.80" y="339.25" font-size="4.4" fill="#2a2a2a" font-weight="normal" font-style="normal" text-anchor="middle" >(2e−04)</text>
<rect x="63.20" y="341.48" width="10.90" height="12.53" fill="#a9a9a9" />
<text x="59.80" y="349.39" font-size="6.85" fill="#1e1e1e" font-weight="normal" font-style="normal" text-anchor="end" >MEdarkgrey</text>
<rect x="75.60" y="341.48" width="83.15" height="12.53" fill="#ffdfd8" />
<text x="117.10" y="347.38" font-size="4.4" fill="#2a2a2a" font-weight="normal" font-style="normal" text-anchor="middle" >0.15</text>
<text x="117.10" y="351.68" font-size="4.4" fill="#2a2a2a" font-weight="normal" font-style="normal" text-anchor="middle" >(0.6)</text>
<rect x="158.60" y="341.48" width="83.35" height="12.53" fill="#a6d2fa" />
<text x="200.20" y="347.38" font-size="4.4" fill="#2a2a2a" font-weight="normal" font-style="normal" text-anchor="middle" >−0.35</text>
<text x="200.20" y="351.68" font-size="4.4" fill="#2a2a2a" font-weight="normal" font-style="normal" text-anchor="middle" >(0.2)</text>
<rect x="241.80" y="341.48" width="83.15" height="12.53" fill="#73b8f7" />
<text x="283.30" y="347.38" font-size="4.4" fill="#2a2a2a" font-weight="normal" font-style="normal" text-anchor="middle" >−0.55</text>
<text x="283.30" y="351.68" font-size="4.4" fill="#2a2a2a" font-weight="normal" font-style="normal" text-anchor="middle" >(0.02)</text>
<rect x="324.80" y="341.48" width="84.15" height="12.53" fill="#fa6845" />
<text x="366.80" y="347.38" font-size="4.4" fill="#2a2a2a" font-weight="normal" font-style="normal" text-anchor="middle" >0.71</text>
<text x="366.80" y="351.68" font-size="4.4" fill="#2a2a2a" font-weight="normal" font-style="normal" text-anchor="middle" >(9e−04)</text>
<rect x="63.20" y="353.91" width="10.90" height="12.53" fill="#e0ffff" />
<text x="59.80" y="361.82" font-size="6.85" fill="#1e1e1e" font-weight="normal" font-style="normal" text-anchor="end" >MElightcyan1</text>
<rect x="75.60" y="353.91" width="83.15" height="12.53" fill="#feccc0" />
<text x="117.10" y="359.81" font-size="4.4" fill="#2a2a2a" font-weight="normal" font-style="normal" text-anchor="middle" >0.24</text>
<text x="117.10" y="364.11" font-size="4.4" fill="#2a2a2a" font-weight="normal" font-style="normal" text-anchor="middle" >(0.3)</text>
<rect x="158.60" y="353.91" width="83.35" height="12.53" fill="#add5fa" />
<text x="200.20" y="359.81" font-size="4.4" fill="#2a2a2a" font-weight="normal" font-style="normal" text-anchor="middle" >−0.32</text>
<text x="200.20" y="364.11" font-size="4.4" fill="#2a2a2a" font-weight="normal" font-style="normal" text-anchor="middle" >(0.2)</text>
<rect x="241.80" y="353.91" width="83.15" height="12.53" fill="#e3f1fd" />
<text x="283.30" y="359.81" font-size="4.4" fill="#2a2a2a" font-weight="normal" font-style="normal" text-anchor="middle" >−0.11</text>
<text x="283.30" y="364.11" font-size="4.4" fill="#2a2a2a" font-weight="normal" font-style="normal" text-anchor="middle" >(0.7)</text>
<rect x="324.80" y="353.91" width="84.15" height="12.53" fill="#dbedfd" />
<text x="366.80" y="359.81" font-size="4.4" fill="#2a2a2a" font-weight="normal" font-style="normal" text-anchor="middle" >−0.14</text>
<text x="366.80" y="364.11" font-size="4.4" fill="#2a2a2a" font-weight="normal" font-style="normal" text-anchor="middle" >(0.6)</text>
<rect x="63.20" y="366.34" width="10.90" height="12.53" fill="#556b2f" />
<text x="59.80" y="374.25" font-size="6.85" fill="#1e1e1e" font-weight="normal" font-style="normal" text-anchor="end" >MEdarkolivegreen</text>
<rect x="75.60" y="366.34" width="83.15" height="12.53" fill="#feb09e" />
<text x="117.10" y="372.24" font-size="4.4" fill="#2a2a2a" font-weight="normal" font-style="normal" text-anchor="middle" >0.37</text>
<text x="117.10" y="376.54" font-size="4.4" fill="#2a2a2a" font-weight="normal" font-style="normal" text-anchor="middle" >(0.1)</text>
<rect x="158.60" y="366.34" width="83.35" height="12.53" fill="#a8d3fa" />
<text x="200.20" y="372.24" font-size="4.4" fill="#2a2a2a" font-weight="normal" font-style="normal" text-anchor="middle" >−0.34</text>
<text x="200.20" y="376.54" font-size="4.4" fill="#2a2a2a" font-weight="normal" font-style="normal" text-anchor="middle" >(0.2)</text>
<rect x="241.80" y="366.34" width="83.15" height="12.53" fill="#eff7fe" />
<text x="283.30" y="372.24" font-size="4.4" fill="#2a2a2a" font-weight="normal" font-style="normal" text-anchor="middle" >−0.062</text>
<text x="283.30" y="376.54" font-size="4.4" fill="#2a2a2a" font-weight="normal" font-style="normal" text-anchor="middle" >(0.7)</text>
<rect x="324.80" y="366.34" width="84.15" height="12.53" fill="#d6eafd" />
<text x="366.80" y="372.24" font-size="4.4" fill="#2a2a2a" font-weight="normal" font-style="normal" text-anchor="middle" >−0.16</text>
<text x="366.80" y="376.54" font-size="4.4" fill="#2a2a2a" font-weight="normal" font-style="normal" text-anchor="middle" >(0.5)</text>
<rect x="63.20" y="378.77" width="10.90" height="12.53" fill="#999999" />
<text x="59.80" y="386.68" font-size="6.85" fill="#1e1e1e" font-weight="normal" font-style="normal" text-anchor="end" >MEgrey60</text>
<rect x="75.60" y="378.77" width="83.15" height="12.53" fill="#f95933" />
<text x="117.10" y="384.67" font-size="4.4" fill="#2a2a2a" font-weight="normal" font-style="normal" text-anchor="middle" >0.78</text>
<text x="117.10" y="388.97" font-size="4.4" fill="#2a2a2a" font-weight="normal" font-style="normal" text-anchor="middle" >(1e−04)</text>
<rect x="158.60" y="378.77" width="83.35" height="12.53" fill="#2e94f3" />
<text x="200.20" y="384.67" font-size="4.4" fill="#2a2a2a" font-weight="normal" font-style="normal" text-anchor="middle" >−0.82</text>
<text x="200.20" y="388.97" font-size="4.4" fill="#2a2a2a" font-weight="normal" font-style="normal" text-anchor="middle" >(3e−05)</text>
<rect x="241.80" y="378.77" width="83.15" height="12.53" fill="#85c1f8" />
<text x="283.30" y="384.67" font-size="4.4" fill="#2a2a2a" font-weight="normal" font-style="normal" text-anchor="middle" >−0.48</text>
<text x="283.30" y="388.97" font-size="4.4" fill="#2a2a2a" font-weight="normal" font-style="normal" text-anchor="middle" >(0.04)</text>
<rect x="324.80" y="378.77" width="84.15" height="12.53" fill="#edf6fe" />
<text x="366.80" y="384.67" font-size="4.4" fill="#2a2a2a" font-weight="normal" font-style="normal" text-anchor="middle" >−0.069</text>
<text x="366.80" y="388.97" font-size="4.4" fill="#2a2a2a" font-weight="normal" font-style="normal" text-anchor="middle" >(0.8)</text>
<rect x="63.20" y="391.20" width="10.90" height="12.53" fill="#cd6839" />
<text x="59.80" y="399.11" font-size="6.85" fill="#1e1e1e" font-weight="normal" font-style="normal" text-anchor="end" >MEsienna3</text>
<rect x="75.60" y="391.20" width="83.15" height="12.53" fill="#fd9d86" />
<text x="117.10" y="397.10" font-size="4.4" fill="#2a2a2a" font-weight="normal" font-style="normal" text-anchor="middle" >0.46</text>
<text x="117.10" y="401.40" font-size="4.4" fill="#2a2a2a" font-weight="normal" font-style="normal" text-anchor="middle" >(0.05)</text>
<rect x="158.60" y="391.20" width="83.35" height="12.53" fill="#add5fa" />
<text x="200.20" y="397.10" font-size="4.4" fill="#2a2a2a" font-weight="normal" font-style="normal" text-anchor="middle" >−0.32</text>
<text x="200.20" y="401.40" font-size="4.4" fill="#2a2a2a" font-weight="normal" font-style="normal" text-anchor="middle" >(0.2)</text>
<rect x="241.80" y="391.20" width="83.15" height="12.53" fill="#ecf5fe" />
<text x="283.30" y="397.10" font-size="4.4" fill="#2a2a2a" font-weight="normal" font-style="normal" text-anchor="middle" >−0.076</text>
<text x="283.30" y="401.40" font-size="4.4" fill="#2a2a2a" font-weight="normal" font-style="normal" text-anchor="middle" >(0.8)</text>
<rect x="324.80" y="391.20" width="84.15" height="12.53" fill="#d6eafd" />
<text x="366.80" y="397.10" font-size="4.4" fill="#2a2a2a" font-weight="normal" font-style="normal" text-anchor="middle" >−0.16</text>
<text x="366.80" y="401.40" font-size="4.4" fill="#2a2a2a" font-weight="normal" font-style="normal" text-anchor="middle" >(0.5)</text>
<rect x="63.20" y="403.63" width="10.90" height="12.53" fill="#90ee90" />
<text x="59.80" y="411.54" font-size="6.85" fill="#1e1e1e" font-weight="normal" font-style="normal" text-anchor="end" >MElightgreen</text>
<rect x="75.60" y="403.63" width="83.15" height="12.53" fill="#deeefd" />
<text x="117.10" y="409.53" font-size="4.4" fill="#2a2a2a" font-weight="normal" font-style="normal" text-anchor="middle" >−0.13</text>
<text x="117.10" y="413.83" font-size="4.4" fill="#2a2a2a" font-weight="normal" font-style="normal" text-anchor="middle" >(0.8)</text>
<rect x="158.60" y="403.63" width="83.35" height="12.53" fill="#b8dbfb" />
<text x="200.20" y="409.53" font-size="4.4" fill="#2a2a2a" font-weight="normal" font-style="normal" text-anchor="middle" >−0.28</text>
<text x="200.20" y="413.83" font-size="4.4" fill="#2a2a2a" font-weight="normal" font-style="normal" text-anchor="middle" >(0.3)</text>
<rect x="241.80" y="403.63" width="83.15" height="12.53" fill="#7abbf7" />
<text x="283.30" y="409.53" font-size="4.4" fill="#2a2a2a" font-weight="normal" font-style="normal" text-anchor="middle" >−0.52</text>
<text x="283.30" y="413.83" font-size="4.4" fill="#2a2a2a" font-weight="normal" font-style="normal" text-anchor="middle" >(0.03)</text>
<rect x="324.80" y="403.63" width="84.15" height="12.53" fill="#fff4f1" />
<text x="366.80" y="409.53" font-size="4.4" fill="#2a2a2a" font-weight="normal" font-style="normal" text-anchor="middle" >0.053</text>
<text x="366.80" y="413.83" font-size="4.4" fill="#2a2a2a" font-weight="normal" font-style="normal" text-anchor="middle" >(0.8)</text>
<rect x="63.20" y="416.06" width="10.90" height="12.53" fill="#4682b4" />
<text x="59.80" y="423.97" font-size="6.85" fill="#1e1e1e" font-weight="normal" font-style="normal" text-anchor="end" >MEsteelblue</text>
<rect x="75.60" y="416.06" width="83.15" height="12.53" fill="#dbedfd" />
<text x="117.10" y="421.96" font-size="4.4" fill="#2a2a2a" font-weight="normal" font-style="normal" text-anchor="middle" >−0.14</text>
<text x="117.10" y="426.26" font-size="4.4" fill="#2a2a2a" font-weight="normal" font-style="normal" text-anchor="middle" >(0.6)</text>
<rect x="158.60" y="416.06" width="83.35" height="12.53" fill="#fff5f2" />
<text x="200.20" y="421.96" font-size="4.4" fill="#2a2a2a" font-weight="normal" font-style="normal" text-anchor="middle" >0.049</text>
<text x="200.20" y="426.26" font-size="4.4" fill="#2a2a2a" font-weight="normal" font-style="normal" text-anchor="middle" >(0.8)</text>
<rect x="241.80" y="416.06" width="83.15" height="12.53" fill="#fff1ee" />
<text x="283.30" y="421.96" font-size="4.4" fill="#2a2a2a" font-weight="normal" font-style="normal" text-anchor="middle" >0.066</text>
<text x="283.30" y="426.26" font-size="4.4" fill="#2a2a2a" font-weight="normal" font-style="normal" text-anchor="middle" >(0.8)</text>
<rect x="324.80" y="416.06" width="84.15" height="12.53" fill="#8cc4f8" />
<text x="366.80" y="421.96" font-size="4.4" fill="#2a2a2a" font-weight="normal" font-style="normal" text-anchor="middle" >−0.45</text>
<text x="366.80" y="426.26" font-size="4.4" fill="#2a2a2a" font-weight="normal" font-style="normal" text-anchor="middle" >(0.06)</text>
<text x="0" y="0" font-size="7" fill="#333" text-anchor="end" transform="translate(121.75,435.5) rotate(-45)">Quercetin−3−O−glucoside</text>
<text x="0" y="0" font-size="7" fill="#333" text-anchor="end" transform="translate(206.35,435.5) rotate(-45)">Procyanidin B1</text>
<text x="0" y="0" font-size="7" fill="#333" text-anchor="end" transform="translate(290.15,435.5) rotate(-45)">Procyanidin B3</text>
<text x="0" y="0" font-size="7" fill="#333" text-anchor="end" transform="translate(373.15,435.5) rotate(-45)">Cyanidin−3−O−galactoside</text>
<defs><linearGradient id="cb" x1="0" y1="0" x2="0" y2="1"><stop offset="0" stop-color="#d5482c"/><stop offset="0.25" stop-color="#e98b76"/><stop offset="0.5" stop-color="#ffffff"/><stop offset="0.75" stop-color="#90c0ea"/><stop offset="1" stop-color="#2c7cd0"/></linearGradient></defs>
<rect x="411.10" y="42.50" width="3.50" height="361.50" fill="url(#cb)" stroke="#a0a0a0" stroke-width="0.5"/>
<line x1="415" y1="42.5" x2="417" y2="42.5" stroke="#555" stroke-width="0.5"/>
<text x="417.80" y="45.40" font-size="8.2" fill="#505050" font-weight="bold" font-style="normal" text-anchor="start" >1</text>
<line x1="415" y1="133.2" x2="417" y2="133.2" stroke="#555" stroke-width="0.5"/>
<text x="417.80" y="136.10" font-size="8.2" fill="#505050" font-weight="bold" font-style="normal" text-anchor="start" >0.5</text>
<line x1="415" y1="223.5" x2="417" y2="223.5" stroke="#555" stroke-width="0.5"/>
<text x="417.80" y="226.40" font-size="8.2" fill="#505050" font-weight="bold" font-style="normal" text-anchor="start" >0</text>
<line x1="415" y1="313.8" x2="417" y2="313.8" stroke="#555" stroke-width="0.5"/>
<text x="417.80" y="316.70" font-size="8.2" fill="#505050" font-weight="bold" font-style="normal" text-anchor="start" >−0.5</text>
<line x1="415" y1="404" x2="417" y2="404" stroke="#555" stroke-width="0.5"/>
<text x="417.80" y="406.90" font-size="8.2" fill="#505050" font-weight="bold" font-style="normal" text-anchor="start" >−1</text>
<text x="523.50" y="21.20" font-size="15.4" fill="#111" font-weight="bold" font-style="normal" text-anchor="start" >(A)</text>
<text x="714.00" y="24.20" font-size="10.6" fill="#111" font-weight="bold" font-style="normal" text-anchor="middle" >Phenylalanine</text>
<text x="714.00" y="74.40" font-size="10.6" fill="#111" font-weight="bold" font-style="normal" text-anchor="middle" >Cinnamic acid</text>
<text x="714.00" y="125.20" font-size="10.6" fill="#111" font-weight="bold" font-style="normal" text-anchor="middle" >p-Coumaric acid</text>
<text x="714.00" y="176.40" font-size="10.6" fill="#111" font-weight="bold" font-style="normal" text-anchor="middle" >Coumaroyl-CoA</text>
<text x="714.00" y="225.60" font-size="10.6" fill="#111" font-weight="bold" font-style="normal" text-anchor="middle" >Naringenin chalone</text>
<text x="714.00" y="277.60" font-size="10.6" fill="#111" font-weight="bold" font-style="normal" text-anchor="middle" >Naringenin</text>
<text x="714.00" y="327.20" font-size="10.6" fill="#111" font-weight="bold" font-style="normal" text-anchor="middle" >Dihydroflavonols</text>
<text x="714.00" y="378.60" font-size="10.6" fill="#111" font-weight="bold" font-style="normal" text-anchor="middle" >Leucoanthocyanidins</text>
<text x="714.00" y="429.00" font-size="10.6" fill="#111" font-weight="bold" font-style="normal" text-anchor="middle" >Anthocyanidins</text>
<text x="714.00" y="480.00" font-size="10.6" fill="#111" font-weight="bold" font-style="normal" text-anchor="middle" >Anthocyanin</text>
<text x="858.30" y="326.80" font-size="10.6" fill="#111" font-weight="bold" font-style="normal" text-anchor="start" >Flavonols</text>
<text x="858.30" y="404.60" font-size="10.6" fill="#111" font-weight="bold" font-style="normal" text-anchor="start" >Proanthocyanidins</text>
<line x1="714" y1="32" x2="714" y2="60" stroke="#111" stroke-width="1.5"/>
<polyline points="710.2,49.7 714,60 717.8,49.7" fill="none" stroke="#111" stroke-width="1.5" stroke-linejoin="miter"/>
<line x1="714" y1="82.4" x2="714" y2="110.8" stroke="#111" stroke-width="1.5"/>
<polyline points="710.2,100.5 714,110.8 717.8,100.5" fill="none" stroke="#111" stroke-width="1.5" stroke-linejoin="miter"/>
<line x1="714" y1="133.6" x2="714" y2="161.2" stroke="#111" stroke-width="1.5"/>
<polyline points="710.2,150.89999999999998 714,161.2 717.8,150.89999999999998" fill="none" stroke="#111" stroke-width="1.5" stroke-linejoin="miter"/>
<line x1="714" y1="184" x2="714" y2="212.4" stroke="#111" stroke-width="1.5"/>
<polyline points="710.2,202.1 714,212.4 717.8,202.1" fill="none" stroke="#111" stroke-width="1.5" stroke-linejoin="miter"/>
<line x1="714" y1="234.4" x2="714" y2="262.8" stroke="#111" stroke-width="1.5"/>
<polyline points="710.2,252.5 714,262.8 717.8,252.5" fill="none" stroke="#111" stroke-width="1.5" stroke-linejoin="miter"/>
<line x1="714" y1="336.4" x2="714" y2="364.4" stroke="#111" stroke-width="1.5"/>
<polyline points="710.2,354.09999999999997 714,364.4 717.8,354.09999999999997" fill="none" stroke="#111" stroke-width="1.5" stroke-linejoin="miter"/>
<line x1="714" y1="386.8" x2="714" y2="414.8" stroke="#111" stroke-width="1.5"/>
<polyline points="710.2,404.5 714,414.8 717.8,404.5" fill="none" stroke="#111" stroke-width="1.5" stroke-linejoin="miter"/>
<line x1="714" y1="437.6" x2="714" y2="465.6" stroke="#111" stroke-width="1.5"/>
<polyline points="710.2,455.3 714,465.6 717.8,455.3" fill="none" stroke="#111" stroke-width="1.5" stroke-linejoin="miter"/>
<line x1="715.0" y1="285.6" x2="707.0" y2="312.8" stroke="#111" stroke-width="1.6"/>
<polyline points="706.14,301.91 707.0,312.8 713.62,304.11" fill="none" stroke="#111" stroke-width="1.6"/>
<line x1="715.0" y1="285.6" x2="722.6" y2="312.8" stroke="#111" stroke-width="1.6"/>
<polyline points="716.10,304.03 722.6,312.8 723.61,301.93" fill="none" stroke="#111" stroke-width="1.6"/>
<line x1="771" y1="324.2" x2="851" y2="324.2" stroke="#111" stroke-width="1.6"/>
<polyline points="839.60,328.10 851,324.2 839.60,320.30" fill="none" stroke="#111" stroke-width="1.6"/>
<path d="M773.6,378.5 C790,380 796,392 796,401 C796,410 790,421 773.6,423" fill="none" stroke="#111" stroke-width="1.5"/>
<line x1="796" y1="401" x2="850" y2="401" stroke="#111" stroke-width="1.6"/>
<polyline points="838.60,404.90 850,401 838.60,397.10" fill="none" stroke="#111" stroke-width="1.6"/>
<text x="685.40" y="48.90" font-size="10.2" fill="#a29cd8" font-weight="bold" font-style="normal" text-anchor="start" >PAL</text>
<text x="685.00" y="99.30" font-size="10.2" fill="#a29cd8" font-weight="bold" font-style="normal" text-anchor="start" >C4H</text>
<text x="684.80" y="150.60" font-size="10.2" fill="#a29cd8" font-weight="bold" font-style="normal" text-anchor="start" >4CL</text>
<text x="684.00" y="199.60" font-size="10.2" fill="#a29cd8" font-weight="bold" font-style="normal" text-anchor="start" >CHS</text>
<text x="684.00" y="251.30" font-size="10.2" fill="#a29cd8" font-weight="bold" font-style="normal" text-anchor="start" >CHI</text>
<text x="684.00" y="302.50" font-size="10.2" fill="#a29cd8" font-weight="bold" font-style="normal" text-anchor="start" >F3H</text>
<text x="726.40" y="302.50" font-size="10.2" fill="#a29cd8" font-weight="bold" font-style="normal" text-anchor="start" >F3'5'H</text>
<text x="683.50" y="352.50" font-size="10.2" fill="#a29cd8" font-weight="bold" font-style="normal" text-anchor="start" >DFR</text>
<text x="683.00" y="404.00" font-size="10.2" fill="#a29cd8" font-weight="bold" font-style="normal" text-anchor="start" >ANS</text>
<text x="680.00" y="455.20" font-size="10.2" fill="#a29cd8" font-weight="bold" font-style="normal" text-anchor="start" >UFGT</text>
<text x="795.30" y="341.20" font-size="10.2" fill="#a29cd8" font-weight="bold" font-style="normal" text-anchor="start" >FLS</text>
<text x="795.30" y="385.60" font-size="10.2" fill="#a29cd8" font-weight="bold" font-style="normal" text-anchor="start" >LAR</text>
<text x="795.30" y="422.60" font-size="10.2" fill="#a29cd8" font-weight="bold" font-style="normal" text-anchor="start" >ANR</text>
<rect x="530.00" y="41.00" width="6.00" height="5.80" fill="#8c82dd" />
<text x="540.50" y="46.30" font-size="6.85" fill="#111" font-weight="bold" font-style="italic" text-anchor="start" >mango031403</text>
<rect x="530.00" y="46.80" width="6.00" height="5.80" fill="#8c82dd" />
<text x="540.50" y="52.10" font-size="6.85" fill="#111" font-weight="bold" font-style="italic" text-anchor="start" >mango031404</text>
<rect x="589.30" y="40.70" width="12.20" height="5.00" fill="#86cbad" />
<rect x="602.30" y="40.70" width="12.20" height="5.00" fill="#5fb894" />
<rect x="615.30" y="40.70" width="12.20" height="5.00" fill="#7ec6a6" />
<rect x="628.30" y="40.70" width="12.20" height="5.00" fill="#f4faf7" />
<rect x="641.30" y="40.70" width="12.20" height="5.00" fill="#8ccdb0" />
<rect x="654.30" y="40.70" width="12.20" height="5.00" fill="#e53a3a" />
<rect x="589.30" y="46.50" width="12.20" height="5.00" fill="#4caf86" />
<rect x="602.30" y="46.50" width="12.20" height="5.00" fill="#2f9d6d" />
<rect x="615.30" y="46.50" width="12.20" height="5.00" fill="#3da77a" />
<rect x="628.30" y="46.50" width="12.20" height="5.00" fill="#70c09e" />
<rect x="641.30" y="46.50" width="12.20" height="5.00" fill="#2f9d6d" />
<rect x="654.30" y="46.50" width="12.20" height="5.00" fill="#7fc4a8" />
<rect x="530.00" y="141.80" width="6.00" height="5.80" fill="#35dfe3" />
<text x="540.50" y="147.10" font-size="6.85" fill="#111" font-weight="bold" font-style="italic" text-anchor="start" >mango006009</text>
<rect x="530.00" y="147.60" width="6.00" height="5.80" fill="#e8a631" />
<text x="540.50" y="152.90" font-size="6.85" fill="#111" font-weight="bold" font-style="italic" text-anchor="start" >mango019954</text>
<rect x="589.30" y="141.50" width="12.20" height="5.00" fill="#e03a40" />
<rect x="602.30" y="141.50" width="12.20" height="5.00" fill="#e55262" />
<rect x="615.30" y="141.50" width="12.20" height="5.00" fill="#f0a2aa" />
<rect x="628.30" y="141.50" width="12.20" height="5.00" fill="#e0303a" />
<rect x="641.30" y="141.50" width="12.20" height="5.00" fill="#f1aab2" />
<rect x="654.30" y="141.50" width="12.20" height="5.00" fill="#e14a54" />
<rect x="589.30" y="147.30" width="12.20" height="5.00" fill="#2a9d70" />
<rect x="602.30" y="147.30" width="12.20" height="5.00" fill="#2a9d70" />
<rect x="615.30" y="147.30" width="12.20" height="5.00" fill="#2a9d70" />
<rect x="628.30" y="147.30" width="12.20" height="5.00" fill="#2a9d70" />
<rect x="641.30" y="147.30" width="12.20" height="5.00" fill="#2a9d70" />
<rect x="654.30" y="147.30" width="12.20" height="5.00" fill="#2a9d70" />
<rect x="530.00" y="193.00" width="6.00" height="5.80" fill="#cfcfd6" />
<text x="540.50" y="198.30" font-size="6.85" fill="#111" font-weight="bold" font-style="italic" text-anchor="start" >mango020263</text>
<rect x="530.00" y="198.80" width="6.00" height="5.80" fill="#e8a631" />
<text x="540.50" y="204.10" font-size="6.85" fill="#111" font-weight="bold" font-style="italic" text-anchor="start" >mango003116</text>
<rect x="589.30" y="192.70" width="12.20" height="5.00" fill="#e03038" />
<rect x="602.30" y="192.70" width="12.20" height="5.00" fill="#40a880" />
<rect x="615.30" y="192.70" width="12.20" height="5.00" fill="#e86070" />
<rect x="628.30" y="192.70" width="12.20" height="5.00" fill="#80c8a8" />
<rect x="641.30" y="192.70" width="12.20" height="5.00" fill="#90d0b0" />
<rect x="654.30" y="192.70" width="12.20" height="5.00" fill="#40a880" />
<rect x="589.30" y="198.50" width="12.20" height="5.00" fill="#2a9d70" />
<rect x="602.30" y="198.50" width="12.20" height="5.00" fill="#2a9d70" />
<rect x="615.30" y="198.50" width="12.20" height="5.00" fill="#2a9d70" />
<rect x="628.30" y="198.50" width="12.20" height="5.00" fill="#2a9d70" />
<rect x="641.30" y="198.50" width="12.20" height="5.00" fill="#2a9d70" />
<rect x="654.30" y="198.50" width="12.20" height="5.00" fill="#2a9d70" />
<rect x="530.00" y="295.90" width="6.00" height="5.80" fill="#181a5c" />
<text x="540.50" y="301.20" font-size="6.85" fill="#111" font-weight="bold" font-style="italic" text-anchor="start" >mango010054</text>
<rect x="589.30" y="295.60" width="12.20" height="5.00" fill="#dce9e4" />
<rect x="602.30" y="295.60" width="12.20" height="5.00" fill="#6dbb9d" />
<rect x="615.30" y="295.60" width="12.20" height="5.00" fill="#f3c0c8" />
<rect x="628.30" y="295.60" width="12.20" height="5.00" fill="#6dbb9d" />
<rect x="641.30" y="295.60" width="12.20" height="5.00" fill="#e83040" />
<rect x="654.30" y="295.60" width="12.20" height="5.00" fill="#b8ddd0" />
<rect x="530.00" y="440.30" width="6.00" height="5.80" fill="#8c82dd" />
<text x="540.50" y="445.60" font-size="6.85" fill="#111" font-weight="bold" font-style="italic" text-anchor="start" >mango001496</text>
<rect x="530.00" y="446.10" width="6.00" height="5.80" fill="#d9d5f0" />
<text x="540.50" y="451.40" font-size="6.85" fill="#111" font-weight="bold" font-style="italic" text-anchor="start" >mango034940</text>
<rect x="530.00" y="451.90" width="6.00" height="5.80" fill="#e8a631" />
<text x="540.50" y="457.20" font-size="6.85" fill="#111" font-weight="bold" font-style="italic" text-anchor="start" >mango001495</text>
<rect x="530.00" y="457.70" width="6.00" height="5.80" fill="#181a5c" />
<text x="540.50" y="463.00" font-size="6.85" fill="#111" font-weight="bold" font-style="italic" text-anchor="start" >mango034928</text>
<rect x="589.30" y="440.00" width="12.20" height="5.00" fill="#5db893" />
<rect x="602.30" y="440.00" width="12.20" height="5.00" fill="#6dbf9c" />
<rect x="615.30" y="440.00" width="12.20" height="5.00" fill="#80c8a8" />
<rect x="628.30" y="440.00" width="12.20" height="5.00" fill="#a8dac4" />
<rect x="641.30" y="440.00" width="12.20" height="5.00" fill="#4aae84" />
<rect x="654.30" y="440.00" width="12.20" height="5.00" fill="#c8e8da" />
<rect x="589.30" y="445.80" width="12.20" height="5.00" fill="#2e9c6c" />
<rect x="602.30" y="445.80" width="12.20" height="5.00" fill="#2e9c6c" />
<rect x="615.30" y="445.80" width="12.20" height="5.00" fill="#2e9c6c" />
<rect x="628.30" y="445.80" width="12.20" height="5.00" fill="#2e9c6c" />
<rect x="641.30" y="445.80" width="12.20" height="5.00" fill="#2e9c6c" />
<rect x="654.30" y="445.80" width="12.20" height="5.00" fill="#2e9c6c" />
<rect x="589.30" y="451.60" width="12.20" height="5.00" fill="#f2e2e2" />
<rect x="602.30" y="451.60" width="12.20" height="5.00" fill="#e83038" />
<rect x="615.30" y="451.60" width="12.20" height="5.00" fill="#3da77a" />
<rect x="628.30" y="451.60" width="12.20" height="5.00" fill="#a0d5be" />
<rect x="641.30" y="451.60" width="12.20" height="5.00" fill="#3da77a" />
<rect x="654.30" y="451.60" width="12.20" height="5.00" fill="#a8d8c4" />
<rect x="589.30" y="457.40" width="12.20" height="5.00" fill="#45aa80" />
<rect x="602.30" y="457.40" width="12.20" height="5.00" fill="#45aa80" />
<rect x="615.30" y="457.40" width="12.20" height="5.00" fill="#45aa80" />
<rect x="628.30" y="457.40" width="12.20" height="5.00" fill="#55b08a" />
<rect x="641.30" y="457.40" width="12.20" height="5.00" fill="#c0e3d4" />
<rect x="654.30" y="457.40" width="12.20" height="5.00" fill="#55b08a" />
<rect x="769.30" y="295.00" width="12.20" height="5.00" fill="#e6f2ee" />
<rect x="782.30" y="295.00" width="12.20" height="5.00" fill="#e03038" />
<rect x="795.30" y="295.00" width="12.20" height="5.00" fill="#8fcfb5" />
<rect x="808.30" y="295.00" width="12.20" height="5.00" fill="#8fcfb5" />
<rect x="821.30" y="295.00" width="12.20" height="5.00" fill="#5fb894" />
<rect x="834.30" y="295.00" width="12.20" height="5.00" fill="#c8e6da" />
<text x="854.00" y="299.30" font-size="6.85" fill="#111" font-weight="bold" font-style="italic" text-anchor="start" >mango003892</text>
<rect x="904.00" y="293.30" width="6.30" height="6.30" fill="#e8a631" />
<rect x="819.50" y="334.80" width="12.20" height="4.65" fill="#8fd0b5" />
<rect x="832.50" y="334.80" width="12.20" height="4.65" fill="#9ad5bb" />
<rect x="845.50" y="334.80" width="12.20" height="4.65" fill="#e0f0ea" />
<rect x="858.50" y="334.80" width="12.20" height="4.65" fill="#e03040" />
<rect x="871.50" y="334.80" width="12.20" height="4.65" fill="#d8eee6" />
<rect x="884.50" y="334.80" width="12.20" height="4.65" fill="#e07080" />
<rect x="819.50" y="340.25" width="12.20" height="4.65" fill="#25a070" />
<rect x="832.50" y="340.25" width="12.20" height="4.65" fill="#25a070" />
<rect x="845.50" y="340.25" width="12.20" height="4.65" fill="#25a070" />
<rect x="858.50" y="340.25" width="12.20" height="4.65" fill="#25a070" />
<rect x="871.50" y="340.25" width="12.20" height="4.65" fill="#25a070" />
<rect x="884.50" y="340.25" width="12.20" height="4.65" fill="#25a070" />
<rect x="819.50" y="345.70" width="12.20" height="4.65" fill="#25a070" />
<rect x="832.50" y="345.70" width="12.20" height="4.65" fill="#25a070" />
<rect x="845.50" y="345.70" width="12.20" height="4.65" fill="#25a070" />
<rect x="858.50" y="345.70" width="12.20" height="4.65" fill="#25a070" />
<rect x="871.50" y="345.70" width="12.20" height="4.65" fill="#25a070" />
<rect x="884.50" y="345.70" width="12.20" height="4.65" fill="#25a070" />
<text x="902.50" y="339.80" font-size="6.85" fill="#111" font-weight="bold" font-style="italic" text-anchor="start" >mango022093</text>
<text x="902.50" y="345.70" font-size="6.85" fill="#111" font-weight="bold" font-style="italic" text-anchor="start" >mango023341</text>
<text x="902.50" y="351.60" font-size="6.85" fill="#111" font-weight="bold" font-style="italic" text-anchor="start" >mango023342</text>
<rect x="951.70" y="333.50" width="5.50" height="6.20" fill="#8c82dd" />
<rect x="951.70" y="340.00" width="5.50" height="6.00" fill="#d9d5f0" />
<rect x="951.70" y="346.00" width="5.50" height="6.20" fill="#e8a631" />
<rect x="819.50" y="378.30" width="12.20" height="4.80" fill="#ffffff" />
<rect x="832.50" y="378.30" width="12.20" height="4.80" fill="#e03040" />
<rect x="845.50" y="378.30" width="12.20" height="4.80" fill="#5fb090" />
<rect x="858.50" y="378.30" width="12.20" height="4.80" fill="#b8ddd0" />
<rect x="871.50" y="378.30" width="12.20" height="4.80" fill="#ffffff" />
<rect x="884.50" y="378.30" width="12.20" height="4.80" fill="#90cdb5" />
<text x="901.70" y="384.40" font-size="6.85" fill="#111" font-weight="bold" font-style="italic" text-anchor="start" >mango026327</text>
<rect x="950.20" y="378.50" width="6.30" height="5.50" fill="#e8a631" />
<text x="879.00" y="37.30" font-size="8.4" fill="#222" font-weight="bold" font-style="normal" text-anchor="middle" >FPKM Value</text>
<defs><linearGradient id="fp" x1="0" y1="0" x2="1" y2="0"><stop offset="0" stop-color="#009a5e"/><stop offset="0.5" stop-color="#ffffff"/><stop offset="0.93" stop-color="#ff0000"/><stop offset="1" stop-color="#d80000"/></linearGradient></defs>
<rect x="843.00" y="39.50" width="72.00" height="11.50" fill="url(#fp)" />
<text x="824.00" y="49.20" font-size="7.6" fill="#222" font-weight="bold" font-style="normal" text-anchor="start" >Min</text>
<text x="921.00" y="49.20" font-size="7.6" fill="#222" font-weight="bold" font-style="normal" text-anchor="start" >Max</text>
<rect x="843.50" y="54.20" width="11.50" height="4.80" fill="#ffffff" stroke="#9a9a9a" stroke-width="0.7"/>
<rect x="855.50" y="54.20" width="11.50" height="4.80" fill="#ffffff" stroke="#9a9a9a" stroke-width="0.7"/>
<rect x="867.50" y="54.20" width="11.50" height="4.80" fill="#ffffff" stroke="#9a9a9a" stroke-width="0.7"/>
<rect x="879.50" y="54.20" width="11.50" height="4.80" fill="#ffffff" stroke="#9a9a9a" stroke-width="0.7"/>
<rect x="891.50" y="54.20" width="11.50" height="4.80" fill="#ffffff" stroke="#9a9a9a" stroke-width="0.7"/>
<rect x="903.50" y="54.20" width="11.50" height="4.80" fill="#ffffff" stroke="#9a9a9a" stroke-width="0.7"/>
<text x="0" y="0" font-size="4.8" fill="#444" font-weight="bold" text-anchor="end" transform="translate(851.70,63.0) rotate(-45)">90-C</text>
<text x="0" y="0" font-size="4.8" fill="#444" font-weight="bold" text-anchor="end" transform="translate(863.70,63.0) rotate(-45)">90-T</text>
<text x="0" y="0" font-size="4.8" fill="#444" font-weight="bold" text-anchor="end" transform="translate(875.70,63.0) rotate(-45)">60-C</text>
<text x="0" y="0" font-size="4.8" fill="#444" font-weight="bold" text-anchor="end" transform="translate(887.70,63.0) rotate(-45)">60-T</text>
<text x="0" y="0" font-size="4.8" fill="#444" font-weight="bold" text-anchor="end" transform="translate(899.70,63.0) rotate(-45)">120-C</text>
<text x="0" y="0" font-size="4.8" fill="#444" font-weight="bold" text-anchor="end" transform="translate(911.70,63.0) rotate(-45)">120-T</text>
<rect x="791.00" y="86.00" width="6.40" height="6.40" fill="#8c82dd" />
<text x="802.40" y="91.70" font-size="6.82" fill="#222" font-weight="bold" font-style="normal" text-anchor="start" >negative correlation to quercetin-3-O-glucoside content</text>
<rect x="791.00" y="100.70" width="6.40" height="6.40" fill="#c8c8cc" />
<text x="802.40" y="106.40" font-size="6.82" fill="#222" font-weight="bold" font-style="normal" text-anchor="start" >negative correlation to procyanidin B1 content</text>
<rect x="791.00" y="115.00" width="6.40" height="6.40" fill="#35dfe3" />
<text x="802.40" y="120.70" font-size="6.82" fill="#222" font-weight="bold" font-style="normal" text-anchor="start" >positive correlation to procyanidin B3 content</text>
<rect x="791.00" y="129.50" width="6.40" height="6.40" fill="#e8a631" />
<text x="802.40" y="135.20" font-size="6.82" fill="#222" font-weight="bold" font-style="normal" text-anchor="start" >positive correlation to procyanidin B3 content</text>
<rect x="791.00" y="144.70" width="6.40" height="6.40" fill="#181a5c" />
<text x="802.40" y="150.40" font-size="6.82" fill="#222" font-weight="bold" font-style="normal" text-anchor="start" >positive correlation to cyanidin-3-O-galactoside content</text>
<text x="1017.30" y="21.50" font-size="15.2" fill="#111" font-weight="bold" font-style="normal" text-anchor="start" >(B)</text>
<text x="1099.60" y="24.40" font-size="10.8" fill="#111" font-weight="bold" font-style="italic" text-anchor="middle" >MYB</text>
<line x1="1039.6" y1="28" x2="1165.6" y2="28" stroke="#111" stroke-width="1.3"/>
<rect x="1038.90" y="33.60" width="12.45" height="5.44" fill="#f0a0a0" />
<rect x="1051.90" y="33.60" width="12.45" height="5.44" fill="#f5c0c0" />
<rect x="1064.90" y="33.60" width="12.45" height="5.44" fill="#f2b0b0" />
<rect x="1077.90" y="33.60" width="12.45" height="5.44" fill="#e03030" />
<rect x="1090.90" y="33.60" width="12.45" height="5.44" fill="#f8d8d8" />
<rect x="1103.90" y="33.60" width="12.45" height="5.44" fill="#e85050" />
<rect x="1038.90" y="39.59" width="12.45" height="5.44" fill="#2a9a6a" />
<rect x="1051.90" y="39.59" width="12.45" height="5.44" fill="#7ec4a8" />
<rect x="1064.90" y="39.59" width="12.45" height="5.44" fill="#5ab08c" />
<rect x="1077.90" y="39.59" width="12.45" height="5.44" fill="#f8f4f4" />
<rect x="1090.90" y="39.59" width="12.45" height="5.44" fill="#c0e0d4" />
<rect x="1103.90" y="39.59" width="12.45" height="5.44" fill="#f5c0c0" />
<rect x="1038.90" y="45.58" width="12.45" height="5.44" fill="#2a9a6a" />
<rect x="1051.90" y="45.58" width="12.45" height="5.44" fill="#a8d8c4" />
<rect x="1064.90" y="45.58" width="12.45" height="5.44" fill="#7ec4a8" />
<rect x="1077.90" y="45.58" width="12.45" height="5.44" fill="#fafafa" />
<rect x="1090.90" y="45.58" width="12.45" height="5.44" fill="#3aa078" />
<rect x="1103.90" y="45.58" width="12.45" height="5.44" fill="#b8ddd0" />
<rect x="1038.90" y="51.57" width="12.45" height="5.44" fill="#f5c8c8" />
<rect x="1051.90" y="51.57" width="12.45" height="5.44" fill="#f2b8b8" />
<rect x="1064.90" y="51.57" width="12.45" height="5.44" fill="#f5c8c8" />
<rect x="1077.90" y="51.57" width="12.45" height="5.44" fill="#e03030" />
<rect x="1090.90" y="51.57" width="12.45" height="5.44" fill="#e87070" />
<rect x="1103.90" y="51.57" width="12.45" height="5.44" fill="#e02828" />
<rect x="1038.90" y="57.56" width="12.45" height="5.44" fill="#fdf5f5" />
<rect x="1051.90" y="57.56" width="12.45" height="5.44" fill="#fdf5f5" />
<rect x="1064.90" y="57.56" width="12.45" height="5.44" fill="#fdf5f5" />
<rect x="1077.90" y="57.56" width="12.45" height="5.44" fill="#f08080" />
<rect x="1090.90" y="57.56" width="12.45" height="5.44" fill="#fdfdfd" />
<rect x="1103.90" y="57.56" width="12.45" height="5.44" fill="#f09090" />
<rect x="1038.90" y="63.55" width="12.45" height="5.44" fill="#e03038" />
<rect x="1051.90" y="63.55" width="12.45" height="5.44" fill="#e87070" />
<rect x="1064.90" y="63.55" width="12.45" height="5.44" fill="#e03038" />
<rect x="1077.90" y="63.55" width="12.45" height="5.44" fill="#f2a8a8" />
<rect x="1090.90" y="63.55" width="12.45" height="5.44" fill="#f2a8a8" />
<rect x="1103.90" y="63.55" width="12.45" height="5.44" fill="#e86060" />
<rect x="1038.90" y="69.54" width="12.45" height="5.44" fill="#a8d8c4" />
<rect x="1051.90" y="69.54" width="12.45" height="5.44" fill="#90cfb6" />
<rect x="1064.90" y="69.54" width="12.45" height="5.44" fill="#a8d8c4" />
<rect x="1077.90" y="69.54" width="12.45" height="5.44" fill="#70bfa0" />
<rect x="1090.90" y="69.54" width="12.45" height="5.44" fill="#2a9a6a" />
<rect x="1103.90" y="69.54" width="12.45" height="5.44" fill="#5ab08c" />
<rect x="1038.90" y="75.53" width="12.45" height="5.44" fill="#e8f5f0" />
<rect x="1051.90" y="75.53" width="12.45" height="5.44" fill="#f0f8f5" />
<rect x="1064.90" y="75.53" width="12.45" height="5.44" fill="#a8d8c4" />
<rect x="1077.90" y="75.53" width="12.45" height="5.44" fill="#e0f2ea" />
<rect x="1090.90" y="75.53" width="12.45" height="5.44" fill="#c0e0d4" />
<rect x="1103.90" y="75.53" width="12.45" height="5.44" fill="#d8efe6" />
<rect x="1038.90" y="81.52" width="12.45" height="5.44" fill="#3aa078" />
<rect x="1051.90" y="81.52" width="12.45" height="5.44" fill="#70bfa0" />
<rect x="1064.90" y="81.52" width="12.45" height="5.44" fill="#4aa880" />
<rect x="1077.90" y="81.52" width="12.45" height="5.44" fill="#90cfb6" />
<rect x="1090.90" y="81.52" width="12.45" height="5.44" fill="#2a9a6a" />
<rect x="1103.90" y="81.52" width="12.45" height="5.44" fill="#70bfa0" />
<rect x="1038.90" y="87.51" width="12.45" height="5.44" fill="#c8e8dc" />
<rect x="1051.90" y="87.51" width="12.45" height="5.44" fill="#f2a8a8" />
<rect x="1064.90" y="87.51" width="12.45" height="5.44" fill="#c8e8dc" />
<rect x="1077.90" y="87.51" width="12.45" height="5.44" fill="#e03030" />
<rect x="1090.90" y="87.51" width="12.45" height="5.44" fill="#d8efe6" />
<rect x="1103.90" y="87.51" width="12.45" height="5.44" fill="#f2a8a8" />
<rect x="1038.90" y="93.50" width="12.45" height="5.44" fill="#90cfb6" />
<rect x="1051.90" y="93.50" width="12.45" height="5.44" fill="#f0f8f5" />
<rect x="1064.90" y="93.50" width="12.45" height="5.44" fill="#4aa880" />
<rect x="1077.90" y="93.50" width="12.45" height="5.44" fill="#c8e8dc" />
<rect x="1090.90" y="93.50" width="12.45" height="5.44" fill="#70bfa0" />
<rect x="1103.90" y="93.50" width="12.45" height="5.44" fill="#fafafa" />
<rect x="1038.90" y="99.49" width="12.45" height="5.44" fill="#a8d8c4" />
<rect x="1051.90" y="99.49" width="12.45" height="5.44" fill="#c8e8dc" />
<rect x="1064.90" y="99.49" width="12.45" height="5.44" fill="#b0dcc8" />
<rect x="1077.90" y="99.49" width="12.45" height="5.44" fill="#b8e0d0" />
<rect x="1090.90" y="99.49" width="12.45" height="5.44" fill="#b8e0d0" />
<rect x="1103.90" y="99.49" width="12.45" height="5.44" fill="#c0e0d4" />
<rect x="1038.90" y="105.48" width="12.45" height="5.44" fill="#e8f5f0" />
<rect x="1051.90" y="105.48" width="12.45" height="5.44" fill="#f0f8f5" />
<rect x="1064.90" y="105.48" width="12.45" height="5.44" fill="#f0f8f5" />
<rect x="1077.90" y="105.48" width="12.45" height="5.44" fill="#f0f8f5" />
<rect x="1090.90" y="105.48" width="12.45" height="5.44" fill="#f0f8f5" />
<rect x="1103.90" y="105.48" width="12.45" height="5.44" fill="#f0f8f5" />
<rect x="1038.90" y="111.47" width="12.45" height="5.44" fill="#e85050" />
<rect x="1051.90" y="111.47" width="12.45" height="5.44" fill="#e02828" />
<rect x="1064.90" y="111.47" width="12.45" height="5.44" fill="#e85858" />
<rect x="1077.90" y="111.47" width="12.45" height="5.44" fill="#e84848" />
<rect x="1090.90" y="111.47" width="12.45" height="5.44" fill="#e85050" />
<rect x="1103.90" y="111.47" width="12.45" height="5.44" fill="#e04040" />
<rect x="1038.90" y="117.46" width="12.45" height="5.44" fill="#f08080" />
<rect x="1051.90" y="117.46" width="12.45" height="5.44" fill="#e02828" />
<rect x="1064.90" y="117.46" width="12.45" height="5.44" fill="#f08080" />
<rect x="1077.90" y="117.46" width="12.45" height="5.44" fill="#e84040" />
<rect x="1090.90" y="117.46" width="12.45" height="5.44" fill="#f5b8b8" />
<rect x="1103.90" y="117.46" width="12.45" height="5.44" fill="#f09090" />
<rect x="1038.90" y="123.45" width="12.45" height="5.44" fill="#b0dcc8" />
<rect x="1051.90" y="123.45" width="12.45" height="5.44" fill="#e8f5f0" />
<rect x="1064.90" y="123.45" width="12.45" height="5.44" fill="#b0dcc8" />
<rect x="1077.90" y="123.45" width="12.45" height="5.44" fill="#c8e8dc" />
<rect x="1090.90" y="123.45" width="12.45" height="5.44" fill="#a8d8c4" />
<rect x="1103.90" y="123.45" width="12.45" height="5.44" fill="#c8e8dc" />
<rect x="1038.90" y="129.44" width="12.45" height="5.44" fill="#b0dcc8" />
<rect x="1051.90" y="129.44" width="12.45" height="5.44" fill="#fafafa" />
<rect x="1064.90" y="129.44" width="12.45" height="5.44" fill="#c8e8dc" />
<rect x="1077.90" y="129.44" width="12.45" height="5.44" fill="#d8efe6" />
<rect x="1090.90" y="129.44" width="12.45" height="5.44" fill="#b0dcc8" />
<rect x="1103.90" y="129.44" width="12.45" height="5.44" fill="#d8efe6" />
<rect x="1038.90" y="135.43" width="12.45" height="5.44" fill="#d0ebe0" />
<rect x="1051.90" y="135.43" width="12.45" height="5.44" fill="#fafafa" />
<rect x="1064.90" y="135.43" width="12.45" height="5.44" fill="#90cfb6" />
<rect x="1077.90" y="135.43" width="12.45" height="5.44" fill="#2a9a6a" />
<rect x="1090.90" y="135.43" width="12.45" height="5.44" fill="#b0dcc8" />
<rect x="1103.90" y="135.43" width="12.45" height="5.44" fill="#5ab08c" />
<rect x="1038.90" y="141.42" width="12.45" height="5.44" fill="#fdf0f0" />
<rect x="1051.90" y="141.42" width="12.45" height="5.44" fill="#f09090" />
<rect x="1064.90" y="141.42" width="12.45" height="5.44" fill="#fdf5f5" />
<rect x="1077.90" y="141.42" width="12.45" height="5.44" fill="#f8f8f8" />
<rect x="1090.90" y="141.42" width="12.45" height="5.44" fill="#b0dcc8" />
<rect x="1103.90" y="141.42" width="12.45" height="5.44" fill="#a8d8c4" />
<rect x="1038.90" y="147.41" width="12.45" height="5.44" fill="#f8d8d8" />
<rect x="1051.90" y="147.41" width="12.45" height="5.44" fill="#f5c8c8" />
<rect x="1064.90" y="147.41" width="12.45" height="5.44" fill="#f8e0e0" />
<rect x="1077.90" y="147.41" width="12.45" height="5.44" fill="#f8d8d8" />
<rect x="1090.90" y="147.41" width="12.45" height="5.44" fill="#fdfdfd" />
<rect x="1103.90" y="147.41" width="12.45" height="5.44" fill="#f8e0e0" />
<rect x="1038.90" y="153.40" width="12.45" height="5.44" fill="#fde8e8" />
<rect x="1051.90" y="153.40" width="12.45" height="5.44" fill="#f09090" />
<rect x="1064.90" y="153.40" width="12.45" height="5.44" fill="#c8e8dc" />
<rect x="1077.90" y="153.40" width="12.45" height="5.44" fill="#f8e8e8" />
<rect x="1090.90" y="153.40" width="12.45" height="5.44" fill="#d8efe6" />
<rect x="1103.90" y="153.40" width="12.45" height="5.44" fill="#f8f8f8" />
<rect x="1038.90" y="159.39" width="12.45" height="5.44" fill="#fde0e0" />
<rect x="1051.90" y="159.39" width="12.45" height="5.44" fill="#e86060" />
<rect x="1064.90" y="159.39" width="12.45" height="5.44" fill="#fde8e8" />
<rect x="1077.90" y="159.39" width="12.45" height="5.44" fill="#f5b0b0" />
<rect x="1090.90" y="159.39" width="12.45" height="5.44" fill="#fdf0f0" />
<rect x="1103.90" y="159.39" width="12.45" height="5.44" fill="#f5b8b8" />
<rect x="1038.90" y="165.38" width="12.45" height="5.44" fill="#fafafa" />
<rect x="1051.90" y="165.38" width="12.45" height="5.44" fill="#c0e0d4" />
<rect x="1064.90" y="165.38" width="12.45" height="5.44" fill="#fdfdfd" />
<rect x="1077.90" y="165.38" width="12.45" height="5.44" fill="#fde8e8" />
<rect x="1090.90" y="165.38" width="12.45" height="5.44" fill="#f5b8b8" />
<rect x="1103.90" y="165.38" width="12.45" height="5.44" fill="#fdf0f0" />
<rect x="1038.90" y="171.37" width="12.45" height="5.44" fill="#fdf5f5" />
<rect x="1051.90" y="171.37" width="12.45" height="5.44" fill="#fde0e0" />
<rect x="1064.90" y="171.37" width="12.45" height="5.44" fill="#f5c8c8" />
<rect x="1077.90" y="171.37" width="12.45" height="5.44" fill="#fde8e8" />
<rect x="1090.90" y="171.37" width="12.45" height="5.44" fill="#f5c0c0" />
<rect x="1103.90" y="171.37" width="12.45" height="5.44" fill="#fdf5f5" />
<rect x="1038.90" y="177.36" width="12.45" height="5.44" fill="#e86060" />
<rect x="1051.90" y="177.36" width="12.45" height="5.44" fill="#f09090" />
<rect x="1064.90" y="177.36" width="12.45" height="5.44" fill="#e04848" />
<rect x="1077.90" y="177.36" width="12.45" height="5.44" fill="#f08080" />
<rect x="1090.90" y="177.36" width="12.45" height="5.44" fill="#e03030" />
<rect x="1103.90" y="177.36" width="12.45" height="5.44" fill="#e85858" />
<rect x="1038.90" y="183.35" width="12.45" height="5.44" fill="#fdf8f8" />
<rect x="1051.90" y="183.35" width="12.45" height="5.44" fill="#e8f5f0" />
<rect x="1064.90" y="183.35" width="12.45" height="5.44" fill="#fde8e8" />
<rect x="1077.90" y="183.35" width="12.45" height="5.44" fill="#fdf5f5" />
<rect x="1090.90" y="183.35" width="12.45" height="5.44" fill="#f8d0d0" />
<rect x="1103.90" y="183.35" width="12.45" height="5.44" fill="#fdf5f5" />
<rect x="1038.90" y="189.34" width="12.45" height="5.44" fill="#a8d8c4" />
<rect x="1051.90" y="189.34" width="12.45" height="5.44" fill="#2a9a6a" />
<rect x="1064.90" y="189.34" width="12.45" height="5.44" fill="#fafafa" />
<rect x="1077.90" y="189.34" width="12.45" height="5.44" fill="#d0ebe0" />
<rect x="1090.90" y="189.34" width="12.45" height="5.44" fill="#f8d8d8" />
<rect x="1103.90" y="189.34" width="12.45" height="5.44" fill="#b0dcc8" />
<rect x="1026.70" y="33.60" width="5.80" height="29.95" fill="#8a80e8" />
<rect x="1026.70" y="63.55" width="5.80" height="11.98" fill="#c8c8cc" />
<rect x="1026.70" y="75.53" width="5.80" height="23.96" fill="#22e6ee" />
<rect x="1026.70" y="99.49" width="5.80" height="65.89" fill="#f2a40a" />
<rect x="1026.70" y="165.38" width="5.80" height="29.95" fill="#141868" />
<text x="1122.40" y="37.70" font-size="6.7" fill="#111" font-weight="bold" font-style="italic" text-anchor="start" >mango017553</text>
<text x="1122.40" y="43.69" font-size="6.7" fill="#111" font-weight="bold" font-style="italic" text-anchor="start" >mango017646</text>
<text x="1122.40" y="49.68" font-size="6.7" fill="#111" font-weight="bold" font-style="italic" text-anchor="start" >mango019669</text>
<text x="1122.40" y="55.67" font-size="6.7" fill="#111" font-weight="bold" font-style="italic" text-anchor="start" >mango024626</text>
<text x="1122.40" y="61.66" font-size="6.7" fill="#111" font-weight="bold" font-style="italic" text-anchor="start" >mango027391</text>
<text x="1122.40" y="67.65" font-size="6.7" fill="#111" font-weight="bold" font-style="italic" text-anchor="start" >mango015450</text>
<text x="1122.40" y="73.64" font-size="6.7" fill="#111" font-weight="bold" font-style="italic" text-anchor="start" >mango030358</text>
<text x="1122.40" y="79.63" font-size="6.7" fill="#111" font-weight="bold" font-style="italic" text-anchor="start" >mango018042</text>
<text x="1122.40" y="85.62" font-size="6.7" fill="#111" font-weight="bold" font-style="italic" text-anchor="start" >mango001547</text>
<text x="1122.40" y="91.61" font-size="6.7" fill="#111" font-weight="bold" font-style="italic" text-anchor="start" >mango024534</text>
<text x="1122.40" y="97.60" font-size="6.7" fill="#111" font-weight="bold" font-style="italic" text-anchor="start" >mango026317</text>
<text x="1122.40" y="103.59" font-size="6.7" fill="#111" font-weight="bold" font-style="italic" text-anchor="start" >mango016535</text>
<text x="1122.40" y="109.58" font-size="6.7" fill="#111" font-weight="bold" font-style="italic" text-anchor="start" >mango002930</text>
<text x="1122.40" y="115.57" font-size="6.7" fill="#111" font-weight="bold" font-style="italic" text-anchor="start" >mango006121</text>
<text x="1122.40" y="121.56" font-size="6.7" fill="#111" font-weight="bold" font-style="italic" text-anchor="start" >mango009811</text>
<text x="1122.40" y="127.55" font-size="6.7" fill="#111" font-weight="bold" font-style="italic" text-anchor="start" >mango015022</text>
<text x="1122.40" y="133.54" font-size="6.7" fill="#111" font-weight="bold" font-style="italic" text-anchor="start" >mango016220</text>
<text x="1122.40" y="139.53" font-size="6.7" fill="#111" font-weight="bold" font-style="italic" text-anchor="start" >mango026276</text>
<text x="1122.40" y="145.52" font-size="6.7" fill="#111" font-weight="bold" font-style="italic" text-anchor="start" >mango028175</text>
<text x="1122.40" y="151.51" font-size="6.7" fill="#111" font-weight="bold" font-style="italic" text-anchor="start" >mango028372</text>
<text x="1122.40" y="157.50" font-size="6.7" fill="#111" font-weight="bold" font-style="italic" text-anchor="start" >mango028852</text>
<text x="1122.40" y="163.49" font-size="6.7" fill="#111" font-weight="bold" font-style="italic" text-anchor="start" >mango029972</text>
<text x="1122.40" y="169.48" font-size="6.7" fill="#111" font-weight="bold" font-style="italic" text-anchor="start" >mango002622</text>
<text x="1122.40" y="175.47" font-size="6.7" fill="#111" font-weight="bold" font-style="italic" text-anchor="start" >mango008497</text>
<text x="1122.40" y="181.46" font-size="6.7" fill="#111" font-weight="bold" font-style="italic" text-anchor="start" >mango013860</text>
<text x="1122.40" y="187.45" font-size="6.7" fill="#111" font-weight="bold" font-style="italic" text-anchor="start" >mango027143</text>
<text x="1122.40" y="193.44" font-size="6.7" fill="#e0566a" font-weight="bold" font-style="italic" text-anchor="start" >mango028356-MiMYB1</text>
<text x="1017.30" y="219.70" font-size="15.2" fill="#111" font-weight="bold" font-style="normal" text-anchor="start" >(C)</text>
<text x="1098.50" y="222.30" font-size="10.8" fill="#111" font-weight="bold" font-style="italic" text-anchor="middle" >bHLH</text>
<line x1="1039.0" y1="226.2" x2="1166" y2="226.2" stroke="#111" stroke-width="1.3"/>
<rect x="1038.90" y="230.60" width="12.45" height="5.44" fill="#fdfdfd" />
<rect x="1051.90" y="230.60" width="12.45" height="5.44" fill="#fdfdfd" />
<rect x="1064.90" y="230.60" width="12.45" height="5.44" fill="#fdfdfd" />
<rect x="1077.90" y="230.60" width="12.45" height="5.44" fill="#fae0e0" />
<rect x="1090.90" y="230.60" width="12.45" height="5.44" fill="#fdf0f0" />
<rect x="1103.90" y="230.60" width="12.45" height="5.44" fill="#f8d0d0" />
<rect x="1038.90" y="236.59" width="12.45" height="5.44" fill="#2a9a6a" />
<rect x="1051.90" y="236.59" width="12.45" height="5.44" fill="#90cfb6" />
<rect x="1064.90" y="236.59" width="12.45" height="5.44" fill="#70bfa0" />
<rect x="1077.90" y="236.59" width="12.45" height="5.44" fill="#c0e0d4" />
<rect x="1090.90" y="236.59" width="12.45" height="5.44" fill="#2a9a6a" />
<rect x="1103.90" y="236.59" width="12.45" height="5.44" fill="#e0f2ea" />
<rect x="1038.90" y="242.58" width="12.45" height="5.44" fill="#5ab08c" />
<rect x="1051.90" y="242.58" width="12.45" height="5.44" fill="#f0f8f5" />
<rect x="1064.90" y="242.58" width="12.45" height="5.44" fill="#a8d8c4" />
<rect x="1077.90" y="242.58" width="12.45" height="5.44" fill="#fafafa" />
<rect x="1090.90" y="242.58" width="12.45" height="5.44" fill="#5ab08c" />
<rect x="1103.90" y="242.58" width="12.45" height="5.44" fill="#f0f8f5" />
<rect x="1038.90" y="248.57" width="12.45" height="5.44" fill="#f09090" />
<rect x="1051.90" y="248.57" width="12.45" height="5.44" fill="#e86060" />
<rect x="1064.90" y="248.57" width="12.45" height="5.44" fill="#e87070" />
<rect x="1077.90" y="248.57" width="12.45" height="5.44" fill="#e02828" />
<rect x="1090.90" y="248.57" width="12.45" height="5.44" fill="#f5b0b0" />
<rect x="1103.90" y="248.57" width="12.45" height="5.44" fill="#e04040" />
<rect x="1038.90" y="254.56" width="12.45" height="5.44" fill="#2a9a6a" />
<rect x="1051.90" y="254.56" width="12.45" height="5.44" fill="#5ab08c" />
<rect x="1064.90" y="254.56" width="12.45" height="5.44" fill="#4aa880" />
<rect x="1077.90" y="254.56" width="12.45" height="5.44" fill="#90cfb6" />
<rect x="1090.90" y="254.56" width="12.45" height="5.44" fill="#3aa078" />
<rect x="1103.90" y="254.56" width="12.45" height="5.44" fill="#90cfb6" />
<rect x="1038.90" y="260.55" width="12.45" height="5.44" fill="#90cfb6" />
<rect x="1051.90" y="260.55" width="12.45" height="5.44" fill="#90cfb6" />
<rect x="1064.90" y="260.55" width="12.45" height="5.44" fill="#90cfb6" />
<rect x="1077.90" y="260.55" width="12.45" height="5.44" fill="#a8d8c4" />
<rect x="1090.90" y="260.55" width="12.45" height="5.44" fill="#70bfa0" />
<rect x="1103.90" y="260.55" width="12.45" height="5.44" fill="#b8e0d0" />
<rect x="1038.90" y="266.54" width="12.45" height="5.44" fill="#fdfdfd" />
<rect x="1051.90" y="266.54" width="12.45" height="5.44" fill="#fdfdfd" />
<rect x="1064.90" y="266.54" width="12.45" height="5.44" fill="#fdfdfd" />
<rect x="1077.90" y="266.54" width="12.45" height="5.44" fill="#f8e0e0" />
<rect x="1090.90" y="266.54" width="12.45" height="5.44" fill="#e8f5f0" />
<rect x="1103.90" y="266.54" width="12.45" height="5.44" fill="#f8e8e8" />
<rect x="1038.90" y="272.53" width="12.45" height="5.44" fill="#e03030" />
<rect x="1051.90" y="272.53" width="12.45" height="5.44" fill="#e84848" />
<rect x="1064.90" y="272.53" width="12.45" height="5.44" fill="#e03838" />
<rect x="1077.90" y="272.53" width="12.45" height="5.44" fill="#e85050" />
<rect x="1090.90" y="272.53" width="12.45" height="5.44" fill="#e84848" />
<rect x="1103.90" y="272.53" width="12.45" height="5.44" fill="#e86060" />
<rect x="1038.90" y="278.52" width="12.45" height="5.44" fill="#90cfb6" />
<rect x="1051.90" y="278.52" width="12.45" height="5.44" fill="#2a9a6a" />
<rect x="1064.90" y="278.52" width="12.45" height="5.44" fill="#90cfb6" />
<rect x="1077.90" y="278.52" width="12.45" height="5.44" fill="#70bfa0" />
<rect x="1090.90" y="278.52" width="12.45" height="5.44" fill="#3aa078" />
<rect x="1103.90" y="278.52" width="12.45" height="5.44" fill="#2a9a6a" />
<rect x="1038.90" y="284.51" width="12.45" height="5.44" fill="#b0dcc8" />
<rect x="1051.90" y="284.51" width="12.45" height="5.44" fill="#70bfa0" />
<rect x="1064.90" y="284.51" width="12.45" height="5.44" fill="#90cfb6" />
<rect x="1077.90" y="284.51" width="12.45" height="5.44" fill="#70bfa0" />
<rect x="1090.90" y="284.51" width="12.45" height="5.44" fill="#3aa078" />
<rect x="1103.90" y="284.51" width="12.45" height="5.44" fill="#5ab08c" />
<rect x="1038.90" y="290.50" width="12.45" height="5.44" fill="#2a9a6a" />
<rect x="1051.90" y="290.50" width="12.45" height="5.44" fill="#90cfb6" />
<rect x="1064.90" y="290.50" width="12.45" height="5.44" fill="#2a9a6a" />
<rect x="1077.90" y="290.50" width="12.45" height="5.44" fill="#5ab08c" />
<rect x="1090.90" y="290.50" width="12.45" height="5.44" fill="#3aa078" />
<rect x="1103.90" y="290.50" width="12.45" height="5.44" fill="#70bfa0" />
<rect x="1038.90" y="296.49" width="12.45" height="5.44" fill="#b0dcc8" />
<rect x="1051.90" y="296.49" width="12.45" height="5.44" fill="#e0f2ea" />
<rect x="1064.90" y="296.49" width="12.45" height="5.44" fill="#b0dcc8" />
<rect x="1077.90" y="296.49" width="12.45" height="5.44" fill="#d8efe6" />
<rect x="1090.90" y="296.49" width="12.45" height="5.44" fill="#90cfb6" />
<rect x="1103.90" y="296.49" width="12.45" height="5.44" fill="#c8e8dc" />
<rect x="1038.90" y="302.48" width="12.45" height="5.44" fill="#90cfb6" />
<rect x="1051.90" y="302.48" width="12.45" height="5.44" fill="#b0dcc8" />
<rect x="1064.90" y="302.48" width="12.45" height="5.44" fill="#2a9a6a" />
<rect x="1077.90" y="302.48" width="12.45" height="5.44" fill="#d8efe6" />
<rect x="1090.90" y="302.48" width="12.45" height="5.44" fill="#3aa078" />
<rect x="1103.90" y="302.48" width="12.45" height="5.44" fill="#d8efe6" />
<rect x="1038.90" y="308.47" width="12.45" height="5.44" fill="#70bfa0" />
<rect x="1051.90" y="308.47" width="12.45" height="5.44" fill="#b0dcc8" />
<rect x="1064.90" y="308.47" width="12.45" height="5.44" fill="#70bfa0" />
<rect x="1077.90" y="308.47" width="12.45" height="5.44" fill="#90cfb6" />
<rect x="1090.90" y="308.47" width="12.45" height="5.44" fill="#5ab08c" />
<rect x="1103.90" y="308.47" width="12.45" height="5.44" fill="#90cfb6" />
<rect x="1038.90" y="314.46" width="12.45" height="5.44" fill="#fafafa" />
<rect x="1051.90" y="314.46" width="12.45" height="5.44" fill="#f0f8f5" />
<rect x="1064.90" y="314.46" width="12.45" height="5.44" fill="#f0f8f5" />
<rect x="1077.90" y="314.46" width="12.45" height="5.44" fill="#f8e8e8" />
<rect x="1090.90" y="314.46" width="12.45" height="5.44" fill="#a8d8c4" />
<rect x="1103.90" y="314.46" width="12.45" height="5.44" fill="#fafafa" />
<rect x="1038.90" y="320.45" width="12.45" height="5.44" fill="#d8efe6" />
<rect x="1051.90" y="320.45" width="12.45" height="5.44" fill="#f8d8d8" />
<rect x="1064.90" y="320.45" width="12.45" height="5.44" fill="#b0dcc8" />
<rect x="1077.90" y="320.45" width="12.45" height="5.44" fill="#f8d8d8" />
<rect x="1090.90" y="320.45" width="12.45" height="5.44" fill="#b0dcc8" />
<rect x="1103.90" y="320.45" width="12.45" height="5.44" fill="#fafafa" />
<rect x="1038.90" y="326.44" width="12.45" height="5.44" fill="#b0dcc8" />
<rect x="1051.90" y="326.44" width="12.45" height="5.44" fill="#fafafa" />
<rect x="1064.90" y="326.44" width="12.45" height="5.44" fill="#90cfb6" />
<rect x="1077.90" y="326.44" width="12.45" height="5.44" fill="#fafafa" />
<rect x="1090.90" y="326.44" width="12.45" height="5.44" fill="#90cfb6" />
<rect x="1103.90" y="326.44" width="12.45" height="5.44" fill="#d8efe6" />
<rect x="1038.90" y="332.43" width="12.45" height="5.44" fill="#f5b0b0" />
<rect x="1051.90" y="332.43" width="12.45" height="5.44" fill="#e03030" />
<rect x="1064.90" y="332.43" width="12.45" height="5.44" fill="#fde0e0" />
<rect x="1077.90" y="332.43" width="12.45" height="5.44" fill="#e03030" />
<rect x="1090.90" y="332.43" width="12.45" height="5.44" fill="#fafafa" />
<rect x="1103.90" y="332.43" width="12.45" height="5.44" fill="#e03838" />
<rect x="1038.90" y="338.42" width="12.45" height="5.44" fill="#fde8e8" />
<rect x="1051.90" y="338.42" width="12.45" height="5.44" fill="#e04848" />
<rect x="1064.90" y="338.42" width="12.45" height="5.44" fill="#b0dcc8" />
<rect x="1077.90" y="338.42" width="12.45" height="5.44" fill="#f09090" />
<rect x="1090.90" y="338.42" width="12.45" height="5.44" fill="#b0dcc8" />
<rect x="1103.90" y="338.42" width="12.45" height="5.44" fill="#e86060" />
<rect x="1038.90" y="344.41" width="12.45" height="5.44" fill="#fdf0f0" />
<rect x="1051.90" y="344.41" width="12.45" height="5.44" fill="#f0f8f5" />
<rect x="1064.90" y="344.41" width="12.45" height="5.44" fill="#c8e8dc" />
<rect x="1077.90" y="344.41" width="12.45" height="5.44" fill="#f5b0b0" />
<rect x="1090.90" y="344.41" width="12.45" height="5.44" fill="#b0dcc8" />
<rect x="1103.90" y="344.41" width="12.45" height="5.44" fill="#f8e0e0" />
<rect x="1038.90" y="350.40" width="12.45" height="5.44" fill="#d8efe6" />
<rect x="1051.90" y="350.40" width="12.45" height="5.44" fill="#e8f5f0" />
<rect x="1064.90" y="350.40" width="12.45" height="5.44" fill="#d0ebe0" />
<rect x="1077.90" y="350.40" width="12.45" height="5.44" fill="#e0f2ea" />
<rect x="1090.90" y="350.40" width="12.45" height="5.44" fill="#d8efe6" />
<rect x="1103.90" y="350.40" width="12.45" height="5.44" fill="#e0f2ea" />
<rect x="1038.90" y="356.39" width="12.45" height="5.44" fill="#b0dcc8" />
<rect x="1051.90" y="356.39" width="12.45" height="5.44" fill="#f07070" />
<rect x="1064.90" y="356.39" width="12.45" height="5.44" fill="#4aa880" />
<rect x="1077.90" y="356.39" width="12.45" height="5.44" fill="#3aa078" />
<rect x="1090.90" y="356.39" width="12.45" height="5.44" fill="#70bfa0" />
<rect x="1103.90" y="356.39" width="12.45" height="5.44" fill="#70bfa0" />
<rect x="1038.90" y="362.38" width="12.45" height="5.44" fill="#c8e8dc" />
<rect x="1051.90" y="362.38" width="12.45" height="5.44" fill="#e03838" />
<rect x="1064.90" y="362.38" width="12.45" height="5.44" fill="#90cfb6" />
<rect x="1077.90" y="362.38" width="12.45" height="5.44" fill="#70bfa0" />
<rect x="1090.90" y="362.38" width="12.45" height="5.44" fill="#90cfb6" />
<rect x="1103.90" y="362.38" width="12.45" height="5.44" fill="#90cfb6" />
<rect x="1038.90" y="368.37" width="12.45" height="5.44" fill="#e0f2ea" />
<rect x="1051.90" y="368.37" width="12.45" height="5.44" fill="#f8d8d8" />
<rect x="1064.90" y="368.37" width="12.45" height="5.44" fill="#e8f5f0" />
<rect x="1077.90" y="368.37" width="12.45" height="5.44" fill="#e8f5f0" />
<rect x="1090.90" y="368.37" width="12.45" height="5.44" fill="#e8f5f0" />
<rect x="1103.90" y="368.37" width="12.45" height="5.44" fill="#e8f5f0" />
<rect x="1038.90" y="374.36" width="12.45" height="5.44" fill="#b0dcc8" />
<rect x="1051.90" y="374.36" width="12.45" height="5.44" fill="#e0f2ea" />
<rect x="1064.90" y="374.36" width="12.45" height="5.44" fill="#b0dcc8" />
<rect x="1077.90" y="374.36" width="12.45" height="5.44" fill="#90cfb6" />
<rect x="1090.90" y="374.36" width="12.45" height="5.44" fill="#3aa078" />
<rect x="1103.90" y="374.36" width="12.45" height="5.44" fill="#b0dcc8" />
<rect x="1038.90" y="380.35" width="12.45" height="5.44" fill="#d0ebe0" />
<rect x="1051.90" y="380.35" width="12.45" height="5.44" fill="#fafafa" />
<rect x="1064.90" y="380.35" width="12.45" height="5.44" fill="#b0dcc8" />
<rect x="1077.90" y="380.35" width="12.45" height="5.44" fill="#b0dcc8" />
<rect x="1090.90" y="380.35" width="12.45" height="5.44" fill="#5ab08c" />
<rect x="1103.90" y="380.35" width="12.45" height="5.44" fill="#90cfb6" />
<rect x="1038.90" y="386.34" width="12.45" height="5.44" fill="#e03030" />
<rect x="1051.90" y="386.34" width="12.45" height="5.44" fill="#e03030" />
<rect x="1064.90" y="386.34" width="12.45" height="5.44" fill="#e03030" />
<rect x="1077.90" y="386.34" width="12.45" height="5.44" fill="#e03030" />
<rect x="1090.90" y="386.34" width="12.45" height="5.44" fill="#e03838" />
<rect x="1103.90" y="386.34" width="12.45" height="5.44" fill="#e03030" />
<rect x="1038.90" y="392.33" width="12.45" height="5.44" fill="#fafafa" />
<rect x="1051.90" y="392.33" width="12.45" height="5.44" fill="#fafafa" />
<rect x="1064.90" y="392.33" width="12.45" height="5.44" fill="#b0dcc8" />
<rect x="1077.90" y="392.33" width="12.45" height="5.44" fill="#c8e8dc" />
<rect x="1090.90" y="392.33" width="12.45" height="5.44" fill="#2a9a6a" />
<rect x="1103.90" y="392.33" width="12.45" height="5.44" fill="#70bfa0" />
<rect x="1038.90" y="398.32" width="12.45" height="5.44" fill="#f5b0b0" />
<rect x="1051.90" y="398.32" width="12.45" height="5.44" fill="#f08080" />
<rect x="1064.90" y="398.32" width="12.45" height="5.44" fill="#fdf5f5" />
<rect x="1077.90" y="398.32" width="12.45" height="5.44" fill="#f5a0a0" />
<rect x="1090.90" y="398.32" width="12.45" height="5.44" fill="#fafafa" />
<rect x="1103.90" y="398.32" width="12.45" height="5.44" fill="#f5b8b8" />
<rect x="1038.90" y="404.31" width="12.45" height="5.44" fill="#fafafa" />
<rect x="1051.90" y="404.31" width="12.45" height="5.44" fill="#f8d8d8" />
<rect x="1064.90" y="404.31" width="12.45" height="5.44" fill="#e8f5f0" />
<rect x="1077.90" y="404.31" width="12.45" height="5.44" fill="#f0f8f5" />
<rect x="1090.90" y="404.31" width="12.45" height="5.44" fill="#90cfb6" />
<rect x="1103.90" y="404.31" width="12.45" height="5.44" fill="#f0f8f5" />
<rect x="1038.90" y="410.30" width="12.45" height="5.44" fill="#e8f5f0" />
<rect x="1051.90" y="410.30" width="12.45" height="5.44" fill="#fafafa" />
<rect x="1064.90" y="410.30" width="12.45" height="5.44" fill="#c8e8dc" />
<rect x="1077.90" y="410.30" width="12.45" height="5.44" fill="#c8e8dc" />
<rect x="1090.90" y="410.30" width="12.45" height="5.44" fill="#d0ebe0" />
<rect x="1103.90" y="410.30" width="12.45" height="5.44" fill="#d0ebe0" />
<rect x="1038.90" y="416.29" width="12.45" height="5.44" fill="#a8d8c4" />
<rect x="1051.90" y="416.29" width="12.45" height="5.44" fill="#c8e8dc" />
<rect x="1064.90" y="416.29" width="12.45" height="5.44" fill="#b0dcc8" />
<rect x="1077.90" y="416.29" width="12.45" height="5.44" fill="#70bfa0" />
<rect x="1090.90" y="416.29" width="12.45" height="5.44" fill="#b0dcc8" />
<rect x="1103.90" y="416.29" width="12.45" height="5.44" fill="#90cfb6" />
<rect x="1038.90" y="422.28" width="12.45" height="5.44" fill="#c8e8dc" />
<rect x="1051.90" y="422.28" width="12.45" height="5.44" fill="#d8efe6" />
<rect x="1064.90" y="422.28" width="12.45" height="5.44" fill="#b0dcc8" />
<rect x="1077.90" y="422.28" width="12.45" height="5.44" fill="#c8e8dc" />
<rect x="1090.90" y="422.28" width="12.45" height="5.44" fill="#b0dcc8" />
<rect x="1103.90" y="422.28" width="12.45" height="5.44" fill="#c8e8dc" />
<rect x="1038.90" y="428.27" width="12.45" height="5.44" fill="#fde8e8" />
<rect x="1051.90" y="428.27" width="12.45" height="5.44" fill="#f5b8b8" />
<rect x="1064.90" y="428.27" width="12.45" height="5.44" fill="#fde8e8" />
<rect x="1077.90" y="428.27" width="12.45" height="5.44" fill="#f8c8c8" />
<rect x="1090.90" y="428.27" width="12.45" height="5.44" fill="#fde8e8" />
<rect x="1103.90" y="428.27" width="12.45" height="5.44" fill="#fde8e8" />
<rect x="1038.90" y="434.26" width="12.45" height="5.44" fill="#c8e8dc" />
<rect x="1051.90" y="434.26" width="12.45" height="5.44" fill="#d8efe6" />
<rect x="1064.90" y="434.26" width="12.45" height="5.44" fill="#b0dcc8" />
<rect x="1077.90" y="434.26" width="12.45" height="5.44" fill="#d8efe6" />
<rect x="1090.90" y="434.26" width="12.45" height="5.44" fill="#c8e8dc" />
<rect x="1103.90" y="434.26" width="12.45" height="5.44" fill="#d8efe6" />
<rect x="1038.90" y="440.25" width="12.45" height="5.44" fill="#e86070" />
<rect x="1051.90" y="440.25" width="12.45" height="5.44" fill="#e86070" />
<rect x="1064.90" y="440.25" width="12.45" height="5.44" fill="#f5b0b8" />
<rect x="1077.90" y="440.25" width="12.45" height="5.44" fill="#e86060" />
<rect x="1090.90" y="440.25" width="12.45" height="5.44" fill="#fde8e8" />
<rect x="1103.90" y="440.25" width="12.45" height="5.44" fill="#f08080" />
<rect x="1038.90" y="446.24" width="12.45" height="5.44" fill="#e0f2ea" />
<rect x="1051.90" y="446.24" width="12.45" height="5.44" fill="#fafafa" />
<rect x="1064.90" y="446.24" width="12.45" height="5.44" fill="#b0dcc8" />
<rect x="1077.90" y="446.24" width="12.45" height="5.44" fill="#d0ebe0" />
<rect x="1090.90" y="446.24" width="12.45" height="5.44" fill="#b0dcc8" />
<rect x="1103.90" y="446.24" width="12.45" height="5.44" fill="#fafafa" />
<rect x="1038.90" y="452.23" width="12.45" height="5.44" fill="#fafafa" />
<rect x="1051.90" y="452.23" width="12.45" height="5.44" fill="#f5b0b0" />
<rect x="1064.90" y="452.23" width="12.45" height="5.44" fill="#90cfb6" />
<rect x="1077.90" y="452.23" width="12.45" height="5.44" fill="#d0ebe0" />
<rect x="1090.90" y="452.23" width="12.45" height="5.44" fill="#2a9a6a" />
<rect x="1103.90" y="452.23" width="12.45" height="5.44" fill="#70bfa0" />
<rect x="1038.90" y="458.22" width="12.45" height="5.44" fill="#e87070" />
<rect x="1051.90" y="458.22" width="12.45" height="5.44" fill="#e04040" />
<rect x="1064.90" y="458.22" width="12.45" height="5.44" fill="#f09090" />
<rect x="1077.90" y="458.22" width="12.45" height="5.44" fill="#f08080" />
<rect x="1090.90" y="458.22" width="12.45" height="5.44" fill="#f5a8a8" />
<rect x="1103.90" y="458.22" width="12.45" height="5.44" fill="#f5b8b8" />
<rect x="1038.90" y="464.21" width="12.45" height="5.44" fill="#5ab08c" />
<rect x="1051.90" y="464.21" width="12.45" height="5.44" fill="#c8e8dc" />
<rect x="1064.90" y="464.21" width="12.45" height="5.44" fill="#70bfa0" />
<rect x="1077.90" y="464.21" width="12.45" height="5.44" fill="#3aa078" />
<rect x="1090.90" y="464.21" width="12.45" height="5.44" fill="#90cfb6" />
<rect x="1103.90" y="464.21" width="12.45" height="5.44" fill="#70bfa0" />
<rect x="1038.90" y="470.20" width="12.45" height="5.44" fill="#3aa078" />
<rect x="1051.90" y="470.20" width="12.45" height="5.44" fill="#2a9a6a" />
<rect x="1064.90" y="470.20" width="12.45" height="5.44" fill="#a8d8c4" />
<rect x="1077.90" y="470.20" width="12.45" height="5.44" fill="#70bfa0" />
<rect x="1090.90" y="470.20" width="12.45" height="5.44" fill="#d8efe6" />
<rect x="1103.90" y="470.20" width="12.45" height="5.44" fill="#90cfb6" />
<rect x="1038.90" y="476.19" width="12.45" height="5.44" fill="#b0dcc8" />
<rect x="1051.90" y="476.19" width="12.45" height="5.44" fill="#d8efe6" />
<rect x="1064.90" y="476.19" width="12.45" height="5.44" fill="#fdf8f8" />
<rect x="1077.90" y="476.19" width="12.45" height="5.44" fill="#fdf8f8" />
<rect x="1090.90" y="476.19" width="12.45" height="5.44" fill="#e03030" />
<rect x="1103.90" y="476.19" width="12.45" height="5.44" fill="#f5a0a0" />
<rect x="1026.70" y="230.60" width="5.80" height="41.93" fill="#8a80e8" />
<rect x="1026.70" y="272.53" width="5.80" height="17.97" fill="#c8c8cc" />
<rect x="1026.70" y="290.50" width="5.80" height="59.90" fill="#22e6ee" />
<rect x="1026.70" y="350.40" width="5.80" height="119.80" fill="#f2a40a" />
<rect x="1026.70" y="470.20" width="5.80" height="11.98" fill="#141868" />
<text x="1122.40" y="234.70" font-size="6.7" fill="#111" font-weight="bold" font-style="italic" text-anchor="start" >mango003210</text>
<text x="1122.40" y="240.69" font-size="6.7" fill="#111" font-weight="bold" font-style="italic" text-anchor="start" >mango007443</text>
<text x="1122.40" y="246.68" font-size="6.7" fill="#111" font-weight="bold" font-style="italic" text-anchor="start" >mango007472</text>
<text x="1122.40" y="252.67" font-size="6.7" fill="#111" font-weight="bold" font-style="italic" text-anchor="start" >mango011608</text>
<text x="1122.40" y="258.66" font-size="6.7" fill="#111" font-weight="bold" font-style="italic" text-anchor="start" >mango024601</text>
<text x="1122.40" y="264.65" font-size="6.7" fill="#111" font-weight="bold" font-style="italic" text-anchor="start" >mango027010</text>
<text x="1122.40" y="270.64" font-size="6.7" fill="#111" font-weight="bold" font-style="italic" text-anchor="start" >mango028650</text>
<text x="1122.40" y="276.63" font-size="6.7" fill="#111" font-weight="bold" font-style="italic" text-anchor="start" >mango006665</text>
<text x="1122.40" y="282.62" font-size="6.7" fill="#111" font-weight="bold" font-style="italic" text-anchor="start" >mango014975</text>
<text x="1122.40" y="288.61" font-size="6.7" fill="#111" font-weight="bold" font-style="italic" text-anchor="start" >mango017909</text>
<text x="1122.40" y="294.60" font-size="6.7" fill="#111" font-weight="bold" font-style="italic" text-anchor="start" >mango004943</text>
<text x="1122.40" y="300.59" font-size="6.7" fill="#111" font-weight="bold" font-style="italic" text-anchor="start" >mango005651</text>
<text x="1122.40" y="306.58" font-size="6.7" fill="#111" font-weight="bold" font-style="italic" text-anchor="start" >mango011303</text>
<text x="1122.40" y="312.57" font-size="6.7" fill="#111" font-weight="bold" font-style="italic" text-anchor="start" >mango011886</text>
<text x="1122.40" y="318.56" font-size="6.7" fill="#111" font-weight="bold" font-style="italic" text-anchor="start" >mango013669</text>
<text x="1122.40" y="324.55" font-size="6.7" fill="#111" font-weight="bold" font-style="italic" text-anchor="start" >mango019204</text>
<text x="1122.40" y="330.54" font-size="6.7" fill="#111" font-weight="bold" font-style="italic" text-anchor="start" >mango019470</text>
<text x="1122.40" y="336.53" font-size="6.7" fill="#111" font-weight="bold" font-style="italic" text-anchor="start" >mango019880</text>
<text x="1122.40" y="342.52" font-size="6.7" fill="#111" font-weight="bold" font-style="italic" text-anchor="start" >mango020397</text>
<text x="1122.40" y="348.51" font-size="6.7" fill="#111" font-weight="bold" font-style="italic" text-anchor="start" >mango027461</text>
<text x="1122.40" y="354.50" font-size="6.7" fill="#111" font-weight="bold" font-style="italic" text-anchor="start" >mango005335</text>
<text x="1122.40" y="360.49" font-size="6.7" fill="#111" font-weight="bold" font-style="italic" text-anchor="start" >mango007750</text>
<text x="1122.40" y="366.48" font-size="6.7" fill="#111" font-weight="bold" font-style="italic" text-anchor="start" >mango007751</text>
<text x="1122.40" y="372.47" font-size="6.7" fill="#111" font-weight="bold" font-style="italic" text-anchor="start" >mango008684</text>
<text x="1122.40" y="378.46" font-size="6.7" fill="#111" font-weight="bold" font-style="italic" text-anchor="start" >mango009926</text>
<text x="1122.40" y="384.45" font-size="6.7" fill="#111" font-weight="bold" font-style="italic" text-anchor="start" >mango015663</text>
<text x="1122.40" y="390.44" font-size="6.7" fill="#111" font-weight="bold" font-style="italic" text-anchor="start" >mango016951</text>
<text x="1122.40" y="396.43" font-size="6.7" fill="#111" font-weight="bold" font-style="italic" text-anchor="start" >mango017381</text>
<text x="1122.40" y="402.42" font-size="6.7" fill="#111" font-weight="bold" font-style="italic" text-anchor="start" >mango017501</text>
<text x="1122.40" y="408.41" font-size="6.7" fill="#111" font-weight="bold" font-style="italic" text-anchor="start" >mango017603</text>
<text x="1122.40" y="414.40" font-size="6.7" fill="#111" font-weight="bold" font-style="italic" text-anchor="start" >mango018200</text>
<text x="1122.40" y="420.39" font-size="6.7" fill="#111" font-weight="bold" font-style="italic" text-anchor="start" >mango018676</text>
<text x="1122.40" y="426.38" font-size="6.7" fill="#111" font-weight="bold" font-style="italic" text-anchor="start" >mango020237</text>
<text x="1122.40" y="432.37" font-size="6.7" fill="#111" font-weight="bold" font-style="italic" text-anchor="start" >mango021005</text>
<text x="1122.40" y="438.36" font-size="6.7" fill="#111" font-weight="bold" font-style="italic" text-anchor="start" >mango021775</text>
<text x="1122.40" y="444.35" font-size="6.7" fill="#111" font-weight="bold" font-style="italic" text-anchor="start" >mango024801</text>
<text x="1122.40" y="450.34" font-size="6.7" fill="#111" font-weight="bold" font-style="italic" text-anchor="start" >mango027004</text>
<text x="1122.40" y="456.33" font-size="6.7" fill="#111" font-weight="bold" font-style="italic" text-anchor="start" >mango027422</text>
<text x="1122.40" y="462.32" font-size="6.7" fill="#111" font-weight="bold" font-style="italic" text-anchor="start" >mango028105</text>
<text x="1122.40" y="468.31" font-size="6.7" fill="#111" font-weight="bold" font-style="italic" text-anchor="start" >mango031193</text>
<text x="1122.40" y="474.30" font-size="6.7" fill="#111" font-weight="bold" font-style="italic" text-anchor="start" >mango001209</text>
<text x="1122.40" y="480.29" font-size="6.7" fill="#111" font-weight="bold" font-style="italic" text-anchor="start" >mango026388</text>
</svg>
</body></html>
